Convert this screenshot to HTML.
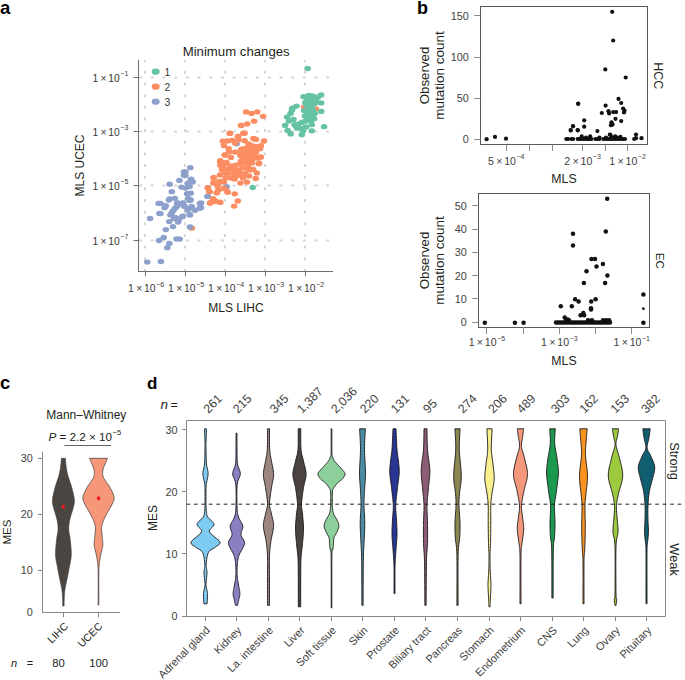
<!DOCTYPE html>
<html><head><meta charset="utf-8"><style>
html,body{margin:0;padding:0;background:#fff;}
svg{display:block;}
text{font-family:"Liberation Sans", sans-serif;}
</style></head><body>
<svg width="685" height="680" viewBox="0 0 685 680" font-family='"Liberation Sans", sans-serif'>
<rect width="685" height="680" fill="#fff"/>
<text x="0" y="13.6" font-size="18.5" text-anchor="start" fill="#000" font-weight="bold" >a</text>
<text x="236.2" y="56" font-size="13.2" text-anchor="middle" fill="#231f20" font-weight="normal" >Minimum changes</text>
<line x1="145" y1="60" x2="145" y2="271" stroke="#d5d5d5" stroke-width="1.9" stroke-dasharray="3 8.65" stroke-dashoffset="0.8"/>
<line x1="185" y1="60" x2="185" y2="271" stroke="#d5d5d5" stroke-width="1.9" stroke-dasharray="3 8.65" stroke-dashoffset="0.8"/>
<line x1="225" y1="60" x2="225" y2="271" stroke="#d5d5d5" stroke-width="1.9" stroke-dasharray="3 8.65" stroke-dashoffset="0.8"/>
<line x1="265" y1="60" x2="265" y2="271" stroke="#d5d5d5" stroke-width="1.9" stroke-dasharray="3 8.65" stroke-dashoffset="0.8"/>
<line x1="305" y1="60" x2="305" y2="271" stroke="#d5d5d5" stroke-width="1.9" stroke-dasharray="3 8.65" stroke-dashoffset="0.8"/>
<line x1="139" y1="77.5" x2="333" y2="77.5" stroke="#d5d5d5" stroke-width="1.9" stroke-dasharray="3 8.7" stroke-dashoffset="0"/>
<line x1="139" y1="131.5" x2="333" y2="131.5" stroke="#d5d5d5" stroke-width="1.9" stroke-dasharray="3 8.7" stroke-dashoffset="0"/>
<line x1="139" y1="185.5" x2="333" y2="185.5" stroke="#d5d5d5" stroke-width="1.9" stroke-dasharray="3 8.7" stroke-dashoffset="0"/>
<line x1="139" y1="240.5" x2="333" y2="240.5" stroke="#d5d5d5" stroke-width="1.9" stroke-dasharray="3 8.7" stroke-dashoffset="0"/>
<line x1="138.5" y1="60" x2="138.5" y2="272" stroke="#6d6e71" stroke-width="1" />
<line x1="138" y1="271.5" x2="333" y2="271.5" stroke="#6d6e71" stroke-width="1" />
<line x1="133.5" y1="77.5" x2="138.5" y2="77.5" stroke="#6d6e71" stroke-width="1" />
<line x1="133.5" y1="131.5" x2="138.5" y2="131.5" stroke="#6d6e71" stroke-width="1" />
<line x1="133.5" y1="185.5" x2="138.5" y2="185.5" stroke="#6d6e71" stroke-width="1" />
<line x1="133.5" y1="240.5" x2="138.5" y2="240.5" stroke="#6d6e71" stroke-width="1" />
<line x1="145.5" y1="271.5" x2="145.5" y2="276" stroke="#6d6e71" stroke-width="1" />
<line x1="185.5" y1="271.5" x2="185.5" y2="276" stroke="#6d6e71" stroke-width="1" />
<line x1="225.5" y1="271.5" x2="225.5" y2="276" stroke="#6d6e71" stroke-width="1" />
<line x1="265.5" y1="271.5" x2="265.5" y2="276" stroke="#6d6e71" stroke-width="1" />
<line x1="305.5" y1="271.5" x2="305.5" y2="276" stroke="#6d6e71" stroke-width="1" />
<text x="128.3" y="81.7" font-size="10.3" text-anchor="end" fill="#383838">1<tspan dx="2.3">×</tspan><tspan dx="1.8">10</tspan><tspan font-size="7.0" dx="0.5" dy="-5.3">&#8722;1</tspan></text>
<text x="128.3" y="135.7" font-size="10.3" text-anchor="end" fill="#383838">1<tspan dx="2.3">×</tspan><tspan dx="1.8">10</tspan><tspan font-size="7.0" dx="0.5" dy="-5.3">&#8722;3</tspan></text>
<text x="128.3" y="189.7" font-size="10.3" text-anchor="end" fill="#383838">1<tspan dx="2.3">×</tspan><tspan dx="1.8">10</tspan><tspan font-size="7.0" dx="0.5" dy="-5.3">&#8722;5</tspan></text>
<text x="128.3" y="244.7" font-size="10.3" text-anchor="end" fill="#383838">1<tspan dx="2.3">×</tspan><tspan dx="1.8">10</tspan><tspan font-size="7.0" dx="0.5" dy="-5.3">&#8722;7</tspan></text>
<text x="146.1" y="292.2" font-size="10.4" text-anchor="middle" fill="#383838">1<tspan dx="2.3">×</tspan><tspan dx="1.8">10</tspan><tspan font-size="7.0" dx="0.5" dy="-5.3">&#8722;6</tspan></text>
<text x="186.1" y="292.2" font-size="10.4" text-anchor="middle" fill="#383838">1<tspan dx="2.3">×</tspan><tspan dx="1.8">10</tspan><tspan font-size="7.0" dx="0.5" dy="-5.3">&#8722;5</tspan></text>
<text x="226.1" y="292.2" font-size="10.4" text-anchor="middle" fill="#383838">1<tspan dx="2.3">×</tspan><tspan dx="1.8">10</tspan><tspan font-size="7.0" dx="0.5" dy="-5.3">&#8722;4</tspan></text>
<text x="266.1" y="292.2" font-size="10.4" text-anchor="middle" fill="#383838">1<tspan dx="2.3">×</tspan><tspan dx="1.8">10</tspan><tspan font-size="7.0" dx="0.5" dy="-5.3">&#8722;3</tspan></text>
<text x="306.1" y="292.2" font-size="10.4" text-anchor="middle" fill="#383838">1<tspan dx="2.3">×</tspan><tspan dx="1.8">10</tspan><tspan font-size="7.0" dx="0.5" dy="-5.3">&#8722;2</tspan></text>
<text x="236" y="311.5" font-size="12" text-anchor="middle" fill="#231f20" font-weight="normal" >MLS LIHC</text>
<text x="0" y="0" font-size="12" text-anchor="middle" fill="#231f20" font-weight="normal" transform="translate(83.8,165.5) rotate(-90)" >MLS UCEC</text>
<ellipse cx="155.7" cy="71.7" rx="4" ry="3.1" fill="#66c2a5"/>
<text x="164.5" y="75.8" font-size="10.4" text-anchor="start" fill="#383838" font-weight="normal" >1</text>
<ellipse cx="155.7" cy="86.7" rx="4" ry="3.1" fill="#fc8d62"/>
<text x="164.5" y="90.8" font-size="10.4" text-anchor="start" fill="#383838" font-weight="normal" >2</text>
<ellipse cx="155.7" cy="101.7" rx="4" ry="3.1" fill="#8da0cb"/>
<text x="164.5" y="105.8" font-size="10.4" text-anchor="start" fill="#383838" font-weight="normal" >3</text>
<g>
<ellipse cx="191.8" cy="228.2" rx="3.3" ry="2.65" fill="#fc8d62"/>
<ellipse cx="190.3" cy="167.7" rx="3.3" ry="2.65" fill="#8da0cb"/>
<ellipse cx="184" cy="171.8" rx="3.3" ry="2.65" fill="#8da0cb"/>
<ellipse cx="184" cy="175.3" rx="3.3" ry="2.65" fill="#8da0cb"/>
<ellipse cx="179.4" cy="180.4" rx="3.3" ry="2.65" fill="#8da0cb"/>
<ellipse cx="190.7" cy="179.9" rx="3.3" ry="2.65" fill="#8da0cb"/>
<ellipse cx="192.7" cy="182" rx="3.3" ry="2.65" fill="#8da0cb"/>
<ellipse cx="187.6" cy="183.5" rx="3.3" ry="2.65" fill="#8da0cb"/>
<ellipse cx="169.7" cy="184.2" rx="3.3" ry="2.65" fill="#8da0cb"/>
<ellipse cx="181.5" cy="187.1" rx="3.3" ry="2.65" fill="#8da0cb"/>
<ellipse cx="185.5" cy="188.1" rx="3.3" ry="2.65" fill="#8da0cb"/>
<ellipse cx="189.6" cy="186.6" rx="3.3" ry="2.65" fill="#8da0cb"/>
<ellipse cx="171.8" cy="191.7" rx="3.3" ry="2.65" fill="#8da0cb"/>
<ellipse cx="187.1" cy="193.7" rx="3.3" ry="2.65" fill="#8da0cb"/>
<ellipse cx="190.7" cy="193.2" rx="3.3" ry="2.65" fill="#8da0cb"/>
<ellipse cx="169.7" cy="198.8" rx="3.3" ry="2.65" fill="#8da0cb"/>
<ellipse cx="174.8" cy="198.3" rx="3.3" ry="2.65" fill="#8da0cb"/>
<ellipse cx="188.1" cy="198.3" rx="3.3" ry="2.65" fill="#8da0cb"/>
<ellipse cx="190.7" cy="199.9" rx="3.3" ry="2.65" fill="#8da0cb"/>
<ellipse cx="177.9" cy="202.9" rx="3.3" ry="2.65" fill="#8da0cb"/>
<ellipse cx="183" cy="202.9" rx="3.3" ry="2.65" fill="#8da0cb"/>
<ellipse cx="199.9" cy="203.4" rx="3.3" ry="2.65" fill="#8da0cb"/>
<ellipse cx="160.5" cy="203.4" rx="3.3" ry="2.65" fill="#8da0cb"/>
<ellipse cx="165.1" cy="206.5" rx="3.3" ry="2.65" fill="#8da0cb"/>
<ellipse cx="176.9" cy="206.5" rx="3.3" ry="2.65" fill="#8da0cb"/>
<ellipse cx="184.5" cy="206.5" rx="3.3" ry="2.65" fill="#8da0cb"/>
<ellipse cx="191.7" cy="206.5" rx="3.3" ry="2.65" fill="#8da0cb"/>
<ellipse cx="199.9" cy="208" rx="3.3" ry="2.65" fill="#8da0cb"/>
<ellipse cx="194.7" cy="210.1" rx="3.3" ry="2.65" fill="#8da0cb"/>
<ellipse cx="187.6" cy="210.1" rx="3.3" ry="2.65" fill="#8da0cb"/>
<ellipse cx="173.3" cy="210.6" rx="3.3" ry="2.65" fill="#8da0cb"/>
<ellipse cx="171.2" cy="214.2" rx="3.3" ry="2.65" fill="#8da0cb"/>
<ellipse cx="160.5" cy="213.6" rx="3.3" ry="2.65" fill="#8da0cb"/>
<ellipse cx="189.6" cy="214.7" rx="3.3" ry="2.65" fill="#8da0cb"/>
<ellipse cx="182.5" cy="216.2" rx="3.3" ry="2.65" fill="#8da0cb"/>
<ellipse cx="175.8" cy="217.7" rx="3.3" ry="2.65" fill="#8da0cb"/>
<ellipse cx="207.5" cy="196.3" rx="3.3" ry="2.65" fill="#8da0cb"/>
<ellipse cx="158.6" cy="203.4" rx="3.3" ry="2.65" fill="#8da0cb"/>
<ellipse cx="165.8" cy="205.7" rx="3.3" ry="2.65" fill="#8da0cb"/>
<ellipse cx="164.6" cy="207.7" rx="3.3" ry="2.65" fill="#8da0cb"/>
<ellipse cx="200.3" cy="208" rx="3.3" ry="2.65" fill="#8da0cb"/>
<ellipse cx="195.1" cy="210.3" rx="3.3" ry="2.65" fill="#8da0cb"/>
<ellipse cx="191.5" cy="207.2" rx="3.3" ry="2.65" fill="#8da0cb"/>
<ellipse cx="188.4" cy="208.8" rx="3.3" ry="2.65" fill="#8da0cb"/>
<ellipse cx="183.3" cy="205.1" rx="3.3" ry="2.65" fill="#8da0cb"/>
<ellipse cx="177.1" cy="203.1" rx="3.3" ry="2.65" fill="#8da0cb"/>
<ellipse cx="175.1" cy="208.2" rx="3.3" ry="2.65" fill="#8da0cb"/>
<ellipse cx="172" cy="212.4" rx="3.3" ry="2.65" fill="#8da0cb"/>
<ellipse cx="170.4" cy="214.9" rx="3.3" ry="2.65" fill="#8da0cb"/>
<ellipse cx="190" cy="214.9" rx="3.3" ry="2.65" fill="#8da0cb"/>
<ellipse cx="159.4" cy="213.4" rx="3.3" ry="2.65" fill="#8da0cb"/>
<ellipse cx="150.1" cy="218.5" rx="3.3" ry="2.65" fill="#8da0cb"/>
<ellipse cx="174" cy="218.5" rx="3.3" ry="2.65" fill="#8da0cb"/>
<ellipse cx="179.2" cy="219" rx="3.3" ry="2.65" fill="#8da0cb"/>
<ellipse cx="182.8" cy="216.5" rx="3.3" ry="2.65" fill="#8da0cb"/>
<ellipse cx="178.1" cy="222.1" rx="3.3" ry="2.65" fill="#8da0cb"/>
<ellipse cx="169.2" cy="221.6" rx="3.3" ry="2.65" fill="#8da0cb"/>
<ellipse cx="173" cy="226.6" rx="3.3" ry="2.65" fill="#8da0cb"/>
<ellipse cx="165.8" cy="229.6" rx="3.3" ry="2.65" fill="#8da0cb"/>
<ellipse cx="190" cy="227" rx="3.3" ry="2.65" fill="#8da0cb"/>
<ellipse cx="163.7" cy="237.4" rx="3.3" ry="2.65" fill="#8da0cb"/>
<ellipse cx="159.1" cy="240.5" rx="3.3" ry="2.65" fill="#8da0cb"/>
<ellipse cx="176.6" cy="238.9" rx="3.3" ry="2.65" fill="#8da0cb"/>
<ellipse cx="179.7" cy="239.1" rx="3.3" ry="2.65" fill="#8da0cb"/>
<ellipse cx="169.4" cy="243.5" rx="3.3" ry="2.65" fill="#8da0cb"/>
<ellipse cx="167.3" cy="247.7" rx="3.3" ry="2.65" fill="#8da0cb"/>
<ellipse cx="147.3" cy="262.1" rx="3.3" ry="2.65" fill="#8da0cb"/>
<ellipse cx="160.9" cy="261.5" rx="3.3" ry="2.65" fill="#8da0cb"/>
<ellipse cx="168.9" cy="200" rx="3.3" ry="2.65" fill="#8da0cb"/>
<ellipse cx="189.5" cy="200.5" rx="3.3" ry="2.65" fill="#8da0cb"/>
<ellipse cx="185.4" cy="172" rx="3.3" ry="2.65" fill="#8da0cb"/>
<ellipse cx="185.4" cy="175.6" rx="3.3" ry="2.65" fill="#8da0cb"/>
<ellipse cx="191.2" cy="179.1" rx="3.3" ry="2.65" fill="#8da0cb"/>
<ellipse cx="201" cy="203" rx="3.3" ry="2.65" fill="#8da0cb"/>
<ellipse cx="201" cy="207.6" rx="3.3" ry="2.65" fill="#8da0cb"/>
<ellipse cx="207.7" cy="196.4" rx="3.3" ry="2.65" fill="#8da0cb"/>
<ellipse cx="226.6" cy="186.7" rx="3.3" ry="2.65" fill="#8da0cb"/>
<ellipse cx="236.6" cy="143.8" rx="3.3" ry="2.65" fill="#8da0cb"/>
<ellipse cx="246.1" cy="111.9" rx="3.3" ry="2.65" fill="#fc8d62"/>
<ellipse cx="251.6" cy="113.4" rx="3.3" ry="2.65" fill="#fc8d62"/>
<ellipse cx="257.2" cy="111.9" rx="3.3" ry="2.65" fill="#fc8d62"/>
<ellipse cx="263.1" cy="116.3" rx="3.3" ry="2.65" fill="#fc8d62"/>
<ellipse cx="254.1" cy="121.2" rx="3.3" ry="2.65" fill="#fc8d62"/>
<ellipse cx="247.2" cy="124" rx="3.3" ry="2.65" fill="#fc8d62"/>
<ellipse cx="241.3" cy="125.5" rx="3.3" ry="2.65" fill="#fc8d62"/>
<ellipse cx="229.8" cy="133.2" rx="3.3" ry="2.65" fill="#fc8d62"/>
<ellipse cx="244.6" cy="133.2" rx="3.3" ry="2.65" fill="#fc8d62"/>
<ellipse cx="238" cy="136.3" rx="3.3" ry="2.65" fill="#fc8d62"/>
<ellipse cx="222.9" cy="141.2" rx="3.3" ry="2.65" fill="#fc8d62"/>
<ellipse cx="227.4" cy="141" rx="3.3" ry="2.65" fill="#fc8d62"/>
<ellipse cx="232.2" cy="140.3" rx="3.3" ry="2.65" fill="#fc8d62"/>
<ellipse cx="235.1" cy="143" rx="3.3" ry="2.65" fill="#fc8d62"/>
<ellipse cx="238.4" cy="139.9" rx="3.3" ry="2.65" fill="#fc8d62"/>
<ellipse cx="244.6" cy="140.7" rx="3.3" ry="2.65" fill="#fc8d62"/>
<ellipse cx="253.4" cy="138.5" rx="3.3" ry="2.65" fill="#fc8d62"/>
<ellipse cx="256" cy="139.4" rx="3.3" ry="2.65" fill="#fc8d62"/>
<ellipse cx="264" cy="141" rx="3.3" ry="2.65" fill="#fc8d62"/>
<ellipse cx="223.8" cy="145.6" rx="3.3" ry="2.65" fill="#fc8d62"/>
<ellipse cx="228.7" cy="148.7" rx="3.3" ry="2.65" fill="#fc8d62"/>
<ellipse cx="248.5" cy="143.8" rx="3.3" ry="2.65" fill="#fc8d62"/>
<ellipse cx="252.1" cy="145.6" rx="3.3" ry="2.65" fill="#fc8d62"/>
<ellipse cx="256.5" cy="146.5" rx="3.3" ry="2.65" fill="#fc8d62"/>
<ellipse cx="260.9" cy="145.6" rx="3.3" ry="2.65" fill="#fc8d62"/>
<ellipse cx="260" cy="148.7" rx="3.3" ry="2.65" fill="#fc8d62"/>
<ellipse cx="241.5" cy="149.1" rx="3.3" ry="2.65" fill="#fc8d62"/>
<ellipse cx="245.9" cy="148.2" rx="3.3" ry="2.65" fill="#fc8d62"/>
<ellipse cx="250.3" cy="149.1" rx="3.3" ry="2.65" fill="#fc8d62"/>
<ellipse cx="253.8" cy="150.9" rx="3.3" ry="2.65" fill="#fc8d62"/>
<ellipse cx="225.1" cy="154.9" rx="3.3" ry="2.65" fill="#fc8d62"/>
<ellipse cx="230.9" cy="157.5" rx="3.3" ry="2.65" fill="#fc8d62"/>
<ellipse cx="241.5" cy="154.4" rx="3.3" ry="2.65" fill="#fc8d62"/>
<ellipse cx="245.9" cy="154.4" rx="3.3" ry="2.65" fill="#fc8d62"/>
<ellipse cx="250.3" cy="153.5" rx="3.3" ry="2.65" fill="#fc8d62"/>
<ellipse cx="254.7" cy="154.4" rx="3.3" ry="2.65" fill="#fc8d62"/>
<ellipse cx="260.9" cy="157.1" rx="3.3" ry="2.65" fill="#fc8d62"/>
<ellipse cx="220.3" cy="160.6" rx="3.3" ry="2.65" fill="#fc8d62"/>
<ellipse cx="226.5" cy="162.4" rx="3.3" ry="2.65" fill="#fc8d62"/>
<ellipse cx="243.2" cy="158.8" rx="3.3" ry="2.65" fill="#fc8d62"/>
<ellipse cx="247.7" cy="159.7" rx="3.3" ry="2.65" fill="#fc8d62"/>
<ellipse cx="252.1" cy="159.7" rx="3.3" ry="2.65" fill="#fc8d62"/>
<ellipse cx="259.1" cy="163.2" rx="3.3" ry="2.65" fill="#fc8d62"/>
<ellipse cx="240.6" cy="163.2" rx="3.3" ry="2.65" fill="#fc8d62"/>
<ellipse cx="245.9" cy="163.2" rx="3.3" ry="2.65" fill="#fc8d62"/>
<ellipse cx="241" cy="125.3" rx="3.3" ry="2.65" fill="#fc8d62"/>
<ellipse cx="230" cy="133.4" rx="3.3" ry="2.65" fill="#fc8d62"/>
<ellipse cx="243.3" cy="133.2" rx="3.3" ry="2.65" fill="#fc8d62"/>
<ellipse cx="238" cy="136.3" rx="3.3" ry="2.65" fill="#fc8d62"/>
<ellipse cx="242.4" cy="149.1" rx="3.3" ry="2.65" fill="#fc8d62"/>
<ellipse cx="224.7" cy="154.9" rx="3.3" ry="2.65" fill="#fc8d62"/>
<ellipse cx="238.8" cy="151.8" rx="3.3" ry="2.65" fill="#fc8d62"/>
<ellipse cx="234.9" cy="152.1" rx="3.3" ry="2.65" fill="#fc8d62"/>
<ellipse cx="240.5" cy="155.5" rx="3.3" ry="2.65" fill="#fc8d62"/>
<ellipse cx="220.3" cy="161.5" rx="3.3" ry="2.65" fill="#fc8d62"/>
<ellipse cx="225.6" cy="163.2" rx="3.3" ry="2.65" fill="#fc8d62"/>
<ellipse cx="222.1" cy="167.7" rx="3.3" ry="2.65" fill="#fc8d62"/>
<ellipse cx="225.6" cy="173" rx="3.3" ry="2.65" fill="#fc8d62"/>
<ellipse cx="220.4" cy="162.2" rx="3.3" ry="2.65" fill="#fc8d62"/>
<ellipse cx="220.4" cy="165.2" rx="3.3" ry="2.65" fill="#fc8d62"/>
<ellipse cx="225.5" cy="163.2" rx="3.3" ry="2.65" fill="#fc8d62"/>
<ellipse cx="222" cy="169.8" rx="3.3" ry="2.65" fill="#fc8d62"/>
<ellipse cx="225.5" cy="168.8" rx="3.3" ry="2.65" fill="#fc8d62"/>
<ellipse cx="230.7" cy="167.3" rx="3.3" ry="2.65" fill="#fc8d62"/>
<ellipse cx="235.8" cy="165.2" rx="3.3" ry="2.65" fill="#fc8d62"/>
<ellipse cx="240.9" cy="161.1" rx="3.3" ry="2.65" fill="#fc8d62"/>
<ellipse cx="246" cy="159.1" rx="3.3" ry="2.65" fill="#fc8d62"/>
<ellipse cx="251.1" cy="158.1" rx="3.3" ry="2.65" fill="#fc8d62"/>
<ellipse cx="260.3" cy="157" rx="3.3" ry="2.65" fill="#fc8d62"/>
<ellipse cx="258.8" cy="163.7" rx="3.3" ry="2.65" fill="#fc8d62"/>
<ellipse cx="253.1" cy="169.3" rx="3.3" ry="2.65" fill="#fc8d62"/>
<ellipse cx="256.7" cy="172.9" rx="3.3" ry="2.65" fill="#fc8d62"/>
<ellipse cx="255.7" cy="178.5" rx="3.3" ry="2.65" fill="#fc8d62"/>
<ellipse cx="247" cy="182.1" rx="3.3" ry="2.65" fill="#fc8d62"/>
<ellipse cx="240.4" cy="183.1" rx="3.3" ry="2.65" fill="#fc8d62"/>
<ellipse cx="234.7" cy="179" rx="3.3" ry="2.65" fill="#fc8d62"/>
<ellipse cx="240.9" cy="175.4" rx="3.3" ry="2.65" fill="#fc8d62"/>
<ellipse cx="245" cy="173.4" rx="3.3" ry="2.65" fill="#fc8d62"/>
<ellipse cx="233.7" cy="173.4" rx="3.3" ry="2.65" fill="#fc8d62"/>
<ellipse cx="225.5" cy="178" rx="3.3" ry="2.65" fill="#fc8d62"/>
<ellipse cx="227.6" cy="173.4" rx="3.3" ry="2.65" fill="#fc8d62"/>
<ellipse cx="213.8" cy="177.5" rx="3.3" ry="2.65" fill="#fc8d62"/>
<ellipse cx="213.3" cy="182.6" rx="3.3" ry="2.65" fill="#fc8d62"/>
<ellipse cx="219.9" cy="181.6" rx="3.3" ry="2.65" fill="#fc8d62"/>
<ellipse cx="217.9" cy="185.7" rx="3.3" ry="2.65" fill="#fc8d62"/>
<ellipse cx="207.7" cy="187.7" rx="3.3" ry="2.65" fill="#fc8d62"/>
<ellipse cx="209.2" cy="191.3" rx="3.3" ry="2.65" fill="#fc8d62"/>
<ellipse cx="216.9" cy="192.8" rx="3.3" ry="2.65" fill="#fc8d62"/>
<ellipse cx="218.4" cy="190.3" rx="3.3" ry="2.65" fill="#fc8d62"/>
<ellipse cx="224.5" cy="188.7" rx="3.3" ry="2.65" fill="#fc8d62"/>
<ellipse cx="227.6" cy="192.3" rx="3.3" ry="2.65" fill="#fc8d62"/>
<ellipse cx="234.7" cy="193.8" rx="3.3" ry="2.65" fill="#fc8d62"/>
<ellipse cx="213.3" cy="198.9" rx="3.3" ry="2.65" fill="#fc8d62"/>
<ellipse cx="210.2" cy="203" rx="3.3" ry="2.65" fill="#fc8d62"/>
<ellipse cx="215.3" cy="201.5" rx="3.3" ry="2.65" fill="#fc8d62"/>
<ellipse cx="219.9" cy="202.2" rx="3.3" ry="2.65" fill="#fc8d62"/>
<ellipse cx="237.8" cy="201" rx="3.3" ry="2.65" fill="#fc8d62"/>
<ellipse cx="234.2" cy="206.1" rx="3.3" ry="2.65" fill="#fc8d62"/>
<ellipse cx="213.6" cy="177.9" rx="3.3" ry="2.65" fill="#fc8d62"/>
<ellipse cx="219.3" cy="181.5" rx="3.3" ry="2.65" fill="#fc8d62"/>
<ellipse cx="214.2" cy="183" rx="3.3" ry="2.65" fill="#fc8d62"/>
<ellipse cx="208" cy="187.6" rx="3.3" ry="2.65" fill="#fc8d62"/>
<ellipse cx="217.7" cy="186.6" rx="3.3" ry="2.65" fill="#fc8d62"/>
<ellipse cx="224.4" cy="188.6" rx="3.3" ry="2.65" fill="#fc8d62"/>
<ellipse cx="209.6" cy="191.7" rx="3.3" ry="2.65" fill="#fc8d62"/>
<ellipse cx="216.7" cy="192.7" rx="3.3" ry="2.65" fill="#fc8d62"/>
<ellipse cx="227.4" cy="191.7" rx="3.3" ry="2.65" fill="#fc8d62"/>
<ellipse cx="213.1" cy="198.8" rx="3.3" ry="2.65" fill="#fc8d62"/>
<ellipse cx="210.1" cy="202.9" rx="3.3" ry="2.65" fill="#fc8d62"/>
<ellipse cx="215.7" cy="201.4" rx="3.3" ry="2.65" fill="#fc8d62"/>
<ellipse cx="220.3" cy="202.4" rx="3.3" ry="2.65" fill="#fc8d62"/>
<ellipse cx="231" cy="166" rx="3.3" ry="2.65" fill="#fc8d62"/>
<ellipse cx="236" cy="170" rx="3.3" ry="2.65" fill="#fc8d62"/>
<ellipse cx="242" cy="168" rx="3.3" ry="2.65" fill="#fc8d62"/>
<ellipse cx="248" cy="166" rx="3.3" ry="2.65" fill="#fc8d62"/>
<ellipse cx="252" cy="163" rx="3.3" ry="2.65" fill="#fc8d62"/>
<ellipse cx="244" cy="162" rx="3.3" ry="2.65" fill="#fc8d62"/>
<ellipse cx="236" cy="176" rx="3.3" ry="2.65" fill="#fc8d62"/>
<ellipse cx="243" cy="178" rx="3.3" ry="2.65" fill="#fc8d62"/>
<ellipse cx="249" cy="176" rx="3.3" ry="2.65" fill="#fc8d62"/>
<ellipse cx="250" cy="170" rx="3.3" ry="2.65" fill="#fc8d62"/>
<ellipse cx="246" cy="168" rx="3.3" ry="2.65" fill="#fc8d62"/>
<ellipse cx="239" cy="172" rx="3.3" ry="2.65" fill="#fc8d62"/>
<ellipse cx="233" cy="169" rx="3.3" ry="2.65" fill="#fc8d62"/>
<ellipse cx="228" cy="170" rx="3.3" ry="2.65" fill="#fc8d62"/>
<ellipse cx="256" cy="152" rx="3.3" ry="2.65" fill="#fc8d62"/>
<ellipse cx="258" cy="158" rx="3.3" ry="2.65" fill="#fc8d62"/>
<ellipse cx="229" cy="152" rx="3.3" ry="2.65" fill="#fc8d62"/>
<ellipse cx="247" cy="151" rx="3.3" ry="2.65" fill="#fc8d62"/>
<ellipse cx="254" cy="158" rx="3.3" ry="2.65" fill="#fc8d62"/>
<ellipse cx="249" cy="155" rx="3.3" ry="2.65" fill="#fc8d62"/>
<ellipse cx="231" cy="178" rx="3.3" ry="2.65" fill="#fc8d62"/>
<ellipse cx="220" cy="175" rx="3.3" ry="2.65" fill="#fc8d62"/>
<ellipse cx="224" cy="182" rx="3.3" ry="2.65" fill="#fc8d62"/>
<ellipse cx="315.9" cy="108.8" rx="3.3" ry="2.65" fill="#fc8d62"/>
<ellipse cx="304.1" cy="107.1" rx="3.3" ry="2.65" fill="#fc8d62"/>
<ellipse cx="307.6" cy="68.5" rx="3.3" ry="2.65" fill="#66c2a5"/>
<ellipse cx="321.2" cy="94.9" rx="3.3" ry="2.65" fill="#66c2a5"/>
<ellipse cx="303.5" cy="96.7" rx="3.3" ry="2.65" fill="#66c2a5"/>
<ellipse cx="308.8" cy="95.3" rx="3.3" ry="2.65" fill="#66c2a5"/>
<ellipse cx="312.4" cy="95.9" rx="3.3" ry="2.65" fill="#66c2a5"/>
<ellipse cx="315.3" cy="97.6" rx="3.3" ry="2.65" fill="#66c2a5"/>
<ellipse cx="305.3" cy="102.4" rx="3.3" ry="2.65" fill="#66c2a5"/>
<ellipse cx="310" cy="101.2" rx="3.3" ry="2.65" fill="#66c2a5"/>
<ellipse cx="314.7" cy="103.5" rx="3.3" ry="2.65" fill="#66c2a5"/>
<ellipse cx="321.2" cy="102.9" rx="3.3" ry="2.65" fill="#66c2a5"/>
<ellipse cx="296.5" cy="106.1" rx="3.3" ry="2.65" fill="#66c2a5"/>
<ellipse cx="292.4" cy="108.2" rx="3.3" ry="2.65" fill="#66c2a5"/>
<ellipse cx="308.8" cy="107.1" rx="3.3" ry="2.65" fill="#66c2a5"/>
<ellipse cx="312.9" cy="109.4" rx="3.3" ry="2.65" fill="#66c2a5"/>
<ellipse cx="304.1" cy="110.6" rx="3.3" ry="2.65" fill="#66c2a5"/>
<ellipse cx="321.2" cy="111.4" rx="3.3" ry="2.65" fill="#66c2a5"/>
<ellipse cx="290.6" cy="113.5" rx="3.3" ry="2.65" fill="#66c2a5"/>
<ellipse cx="310.6" cy="114.1" rx="3.3" ry="2.65" fill="#66c2a5"/>
<ellipse cx="314.7" cy="113.5" rx="3.3" ry="2.65" fill="#66c2a5"/>
<ellipse cx="287.1" cy="117.1" rx="3.3" ry="2.65" fill="#66c2a5"/>
<ellipse cx="293.5" cy="119.4" rx="3.3" ry="2.65" fill="#66c2a5"/>
<ellipse cx="310" cy="115.3" rx="3.3" ry="2.65" fill="#66c2a5"/>
<ellipse cx="314.1" cy="118.8" rx="3.3" ry="2.65" fill="#66c2a5"/>
<ellipse cx="305.3" cy="121.2" rx="3.3" ry="2.65" fill="#66c2a5"/>
<ellipse cx="301.8" cy="122.4" rx="3.3" ry="2.65" fill="#66c2a5"/>
<ellipse cx="298.2" cy="124.1" rx="3.3" ry="2.65" fill="#66c2a5"/>
<ellipse cx="294.7" cy="124.7" rx="3.3" ry="2.65" fill="#66c2a5"/>
<ellipse cx="285.1" cy="125.4" rx="3.3" ry="2.65" fill="#66c2a5"/>
<ellipse cx="311.8" cy="124.7" rx="3.3" ry="2.65" fill="#66c2a5"/>
<ellipse cx="324.1" cy="126.7" rx="3.3" ry="2.65" fill="#66c2a5"/>
<ellipse cx="297.1" cy="128.2" rx="3.3" ry="2.65" fill="#66c2a5"/>
<ellipse cx="300.6" cy="128.2" rx="3.3" ry="2.65" fill="#66c2a5"/>
<ellipse cx="287.6" cy="130.4" rx="3.3" ry="2.65" fill="#66c2a5"/>
<ellipse cx="311.8" cy="130.8" rx="3.3" ry="2.65" fill="#66c2a5"/>
<ellipse cx="290.6" cy="133.9" rx="3.3" ry="2.65" fill="#66c2a5"/>
<ellipse cx="301.8" cy="134.7" rx="3.3" ry="2.65" fill="#66c2a5"/>
<ellipse cx="307" cy="99" rx="3.3" ry="2.65" fill="#66c2a5"/>
<ellipse cx="311" cy="105" rx="3.3" ry="2.65" fill="#66c2a5"/>
<ellipse cx="307" cy="112" rx="3.3" ry="2.65" fill="#66c2a5"/>
<ellipse cx="313" cy="116" rx="3.3" ry="2.65" fill="#66c2a5"/>
<ellipse cx="308" cy="119" rx="3.3" ry="2.65" fill="#66c2a5"/>
<ellipse cx="311" cy="121" rx="3.3" ry="2.65" fill="#66c2a5"/>
<ellipse cx="296" cy="126" rx="3.3" ry="2.65" fill="#66c2a5"/>
<ellipse cx="289" cy="121" rx="3.3" ry="2.65" fill="#66c2a5"/>
<ellipse cx="306" cy="127" rx="3.3" ry="2.65" fill="#66c2a5"/>
<ellipse cx="303" cy="131" rx="3.3" ry="2.65" fill="#66c2a5"/>
<ellipse cx="316" cy="101" rx="3.3" ry="2.65" fill="#66c2a5"/>
<ellipse cx="318" cy="97" rx="3.3" ry="2.65" fill="#66c2a5"/>
<ellipse cx="313" cy="98" rx="3.3" ry="2.65" fill="#66c2a5"/>
<ellipse cx="306.5" cy="105" rx="3.3" ry="2.65" fill="#66c2a5"/>
<ellipse cx="312" cy="111" rx="3.3" ry="2.65" fill="#66c2a5"/>
<ellipse cx="305" cy="116" rx="3.3" ry="2.65" fill="#66c2a5"/>
<ellipse cx="309" cy="110" rx="3.3" ry="2.65" fill="#66c2a5"/>
<ellipse cx="292" cy="110" rx="3.3" ry="2.65" fill="#66c2a5"/>
<ellipse cx="252.8" cy="187.5" rx="3.3" ry="2.65" fill="#66c2a5"/>
</g>
<text x="417" y="13.5" font-size="18" text-anchor="start" fill="#000" font-weight="bold" >b</text>
<rect x="480.5" y="6.5" width="167" height="138" fill="none" stroke="#58595b" stroke-width="1"/>
<line x1="474.2" y1="15.5" x2="480.5" y2="15.5" stroke="#888" stroke-width="1" />
<text x="468.8" y="19.5" font-size="10.8" text-anchor="end" fill="#404040" font-weight="normal" >150</text>
<line x1="474.2" y1="57.5" x2="480.5" y2="57.5" stroke="#888" stroke-width="1" />
<text x="468.8" y="60.7" font-size="10.8" text-anchor="end" fill="#404040" font-weight="normal" >100</text>
<line x1="474.2" y1="98.5" x2="480.5" y2="98.5" stroke="#888" stroke-width="1" />
<text x="468.8" y="101.9" font-size="10.8" text-anchor="end" fill="#404040" font-weight="normal" >50</text>
<line x1="474.2" y1="139.5" x2="480.5" y2="139.5" stroke="#888" stroke-width="1" />
<text x="468.8" y="143.1" font-size="10.8" text-anchor="end" fill="#404040" font-weight="normal" >0</text>
<line x1="506.5" y1="144.5" x2="506.5" y2="150.9" stroke="#888" stroke-width="1" />
<line x1="529.5" y1="144.5" x2="529.5" y2="150.9" stroke="#888" stroke-width="1" />
<line x1="552.5" y1="144.5" x2="552.5" y2="150.9" stroke="#888" stroke-width="1" />
<line x1="582.5" y1="144.5" x2="582.5" y2="150.9" stroke="#888" stroke-width="1" />
<line x1="605.5" y1="144.5" x2="605.5" y2="150.9" stroke="#888" stroke-width="1" />
<line x1="627.5" y1="144.5" x2="627.5" y2="150.9" stroke="#888" stroke-width="1" />
<text x="506.2" y="164.5" font-size="10.6" text-anchor="middle" fill="#404040">5<tspan dx="2.3">×</tspan><tspan dx="1.8">10</tspan><tspan font-size="7.0" dx="0.5" dy="-5.3">&#8722;4</tspan></text>
<text x="582.6" y="164.5" font-size="10.6" text-anchor="middle" fill="#404040">2<tspan dx="2.3">×</tspan><tspan dx="1.8">10</tspan><tspan font-size="7.0" dx="0.5" dy="-5.3">&#8722;3</tspan></text>
<text x="627.6" y="164.5" font-size="10.6" text-anchor="middle" fill="#404040">1<tspan dx="2.3">×</tspan><tspan dx="1.8">10</tspan><tspan font-size="7.0" dx="0.5" dy="-5.3">&#8722;2</tspan></text>
<text x="564" y="182.7" font-size="12.3" text-anchor="middle" fill="#231f20" font-weight="normal" >MLS</text>
<text x="0" y="0" font-size="13.3" text-anchor="middle" fill="#231f20" font-weight="normal" transform="translate(429,75.5) rotate(-90)" >Observed</text>
<text x="0" y="0" font-size="13.5" text-anchor="middle" fill="#231f20" font-weight="normal" transform="translate(443.8,75.5) rotate(-90)" >mutation count</text>
<text x="0" y="0" font-size="12.5" text-anchor="middle" fill="#231f20" font-weight="normal" transform="translate(653.5,75.8) rotate(90)" >HCC</text>
<circle cx="612.2" cy="11.8" r="2.1" fill="#111"/>
<circle cx="613.2" cy="40.5" r="2.1" fill="#111"/>
<circle cx="605.3" cy="69.4" r="2.1" fill="#111"/>
<circle cx="625.7" cy="77.5" r="2.1" fill="#111"/>
<circle cx="618.5" cy="98.9" r="2.1" fill="#111"/>
<circle cx="621.2" cy="103" r="2.1" fill="#111"/>
<circle cx="578.2" cy="103.7" r="2.1" fill="#111"/>
<circle cx="605.6" cy="105.6" r="2.1" fill="#111"/>
<circle cx="623.1" cy="108.6" r="2.1" fill="#111"/>
<circle cx="601.8" cy="113" r="2.1" fill="#111"/>
<circle cx="608.5" cy="111.2" r="2.1" fill="#111"/>
<circle cx="609.1" cy="113.5" r="2.1" fill="#111"/>
<circle cx="613.2" cy="112.1" r="2.1" fill="#111"/>
<circle cx="616.1" cy="112.1" r="2.1" fill="#111"/>
<circle cx="624" cy="112.4" r="2.1" fill="#111"/>
<circle cx="584.2" cy="120.3" r="2.1" fill="#111"/>
<circle cx="615.5" cy="118.8" r="2.1" fill="#111"/>
<circle cx="621.2" cy="121.1" r="2.1" fill="#111"/>
<circle cx="611.5" cy="122.3" r="2.1" fill="#111"/>
<circle cx="610.9" cy="125.2" r="2.1" fill="#111"/>
<circle cx="612.6" cy="124.6" r="2.1" fill="#111"/>
<circle cx="572.9" cy="126" r="2.1" fill="#111"/>
<circle cx="584.2" cy="126.7" r="2.1" fill="#111"/>
<circle cx="570.6" cy="130.1" r="2.1" fill="#111"/>
<circle cx="577.6" cy="130.1" r="2.1" fill="#111"/>
<circle cx="597.4" cy="131.1" r="2.1" fill="#111"/>
<circle cx="610.3" cy="134.8" r="2.1" fill="#111"/>
<circle cx="486.6" cy="139.2" r="2.1" fill="#111"/>
<circle cx="495" cy="136.9" r="2.1" fill="#111"/>
<circle cx="506" cy="138.7" r="2.1" fill="#111"/>
<circle cx="570.8" cy="130.4" r="2.1" fill="#111"/>
<circle cx="573.1" cy="126.3" r="2.1" fill="#111"/>
<circle cx="577.8" cy="130.4" r="2.1" fill="#111"/>
<circle cx="578.2" cy="103.8" r="2.1" fill="#111"/>
<circle cx="624.5" cy="110.5" r="2.1" fill="#111"/>
<circle cx="566.3" cy="139" r="2.1" fill="#111"/>
<circle cx="568.1" cy="139" r="2.1" fill="#111"/>
<circle cx="571.6" cy="139" r="2.1" fill="#111"/>
<circle cx="573.1" cy="139" r="2.1" fill="#111"/>
<circle cx="577.7" cy="139" r="2.1" fill="#111"/>
<circle cx="579.7" cy="139" r="2.1" fill="#111"/>
<circle cx="581.7" cy="139" r="2.1" fill="#111"/>
<circle cx="583.7" cy="139" r="2.1" fill="#111"/>
<circle cx="585.6" cy="139" r="2.1" fill="#111"/>
<circle cx="587.6" cy="139" r="2.1" fill="#111"/>
<circle cx="589" cy="139" r="2.1" fill="#111"/>
<circle cx="590" cy="139" r="2.1" fill="#111"/>
<circle cx="591.5" cy="139" r="2.1" fill="#111"/>
<circle cx="595.5" cy="139" r="2.1" fill="#111"/>
<circle cx="597.5" cy="139" r="2.1" fill="#111"/>
<circle cx="599.4" cy="139" r="2.1" fill="#111"/>
<circle cx="603.4" cy="139" r="2.1" fill="#111"/>
<circle cx="605.3" cy="139" r="2.1" fill="#111"/>
<circle cx="607.3" cy="139" r="2.1" fill="#111"/>
<circle cx="609.3" cy="139" r="2.1" fill="#111"/>
<circle cx="611.2" cy="139" r="2.1" fill="#111"/>
<circle cx="613.2" cy="139" r="2.1" fill="#111"/>
<circle cx="615.2" cy="139" r="2.1" fill="#111"/>
<circle cx="617.2" cy="139" r="2.1" fill="#111"/>
<circle cx="619.1" cy="139" r="2.1" fill="#111"/>
<circle cx="621.1" cy="139" r="2.1" fill="#111"/>
<circle cx="623.1" cy="139" r="2.1" fill="#111"/>
<circle cx="625" cy="139" r="2.1" fill="#111"/>
<circle cx="581.7" cy="136.4" r="2.1" fill="#111"/>
<circle cx="590.2" cy="136.4" r="2.1" fill="#111"/>
<circle cx="609.9" cy="134.6" r="2.1" fill="#111"/>
<circle cx="615.2" cy="136.4" r="2.1" fill="#111"/>
<circle cx="620.4" cy="136.9" r="2.1" fill="#111"/>
<circle cx="599.4" cy="137.6" r="2.1" fill="#111"/>
<circle cx="636" cy="134.6" r="2.1" fill="#111"/>
<circle cx="634.2" cy="139" r="2.1" fill="#111"/>
<circle cx="636" cy="138.2" r="2.1" fill="#111"/>
<circle cx="641.5" cy="138.2" r="2.1" fill="#111"/>
<circle cx="586" cy="137.5" r="2.1" fill="#111"/>
<circle cx="606" cy="137.5" r="2.1" fill="#111"/>
<circle cx="612" cy="137.2" r="2.1" fill="#111"/>
<circle cx="617" cy="137.5" r="2.1" fill="#111"/>
<rect x="478.5" y="193.5" width="171" height="134" fill="none" stroke="#58595b" stroke-width="1"/>
<line x1="472.2" y1="205.5" x2="478.5" y2="205.5" stroke="#888" stroke-width="1" />
<text x="466.8" y="209.8" font-size="10.8" text-anchor="end" fill="#404040" font-weight="normal" >50</text>
<line x1="472.2" y1="229.5" x2="478.5" y2="229.5" stroke="#888" stroke-width="1" />
<text x="466.8" y="233.1" font-size="10.8" text-anchor="end" fill="#404040" font-weight="normal" >40</text>
<line x1="472.2" y1="252.5" x2="478.5" y2="252.5" stroke="#888" stroke-width="1" />
<text x="466.8" y="256.4" font-size="10.8" text-anchor="end" fill="#404040" font-weight="normal" >30</text>
<line x1="472.2" y1="275.5" x2="478.5" y2="275.5" stroke="#888" stroke-width="1" />
<text x="466.8" y="279.7" font-size="10.8" text-anchor="end" fill="#404040" font-weight="normal" >20</text>
<line x1="472.2" y1="298.5" x2="478.5" y2="298.5" stroke="#888" stroke-width="1" />
<text x="466.8" y="303" font-size="10.8" text-anchor="end" fill="#404040" font-weight="normal" >10</text>
<line x1="472.2" y1="322.5" x2="478.5" y2="322.5" stroke="#888" stroke-width="1" />
<text x="466.8" y="326.3" font-size="10.8" text-anchor="end" fill="#404040" font-weight="normal" >0</text>
<line x1="486.5" y1="327.5" x2="486.5" y2="333.9" stroke="#888" stroke-width="1" />
<line x1="523.5" y1="327.5" x2="523.5" y2="333.9" stroke="#888" stroke-width="1" />
<line x1="559.5" y1="327.5" x2="559.5" y2="333.9" stroke="#888" stroke-width="1" />
<line x1="595.5" y1="327.5" x2="595.5" y2="333.9" stroke="#888" stroke-width="1" />
<line x1="631.5" y1="327.5" x2="631.5" y2="333.9" stroke="#888" stroke-width="1" />
<text x="486.9" y="345.9" font-size="10.6" text-anchor="middle" fill="#404040">1<tspan dx="2.3">×</tspan><tspan dx="1.8">10</tspan><tspan font-size="7.0" dx="0.5" dy="-5.3">&#8722;5</tspan></text>
<text x="559.3" y="345.9" font-size="10.6" text-anchor="middle" fill="#404040">1<tspan dx="2.3">×</tspan><tspan dx="1.8">10</tspan><tspan font-size="7.0" dx="0.5" dy="-5.3">&#8722;3</tspan></text>
<text x="631.7" y="345.9" font-size="10.6" text-anchor="middle" fill="#404040">1<tspan dx="2.3">×</tspan><tspan dx="1.8">10</tspan><tspan font-size="7.0" dx="0.5" dy="-5.3">&#8722;1</tspan></text>
<text x="564" y="365.2" font-size="12.3" text-anchor="middle" fill="#231f20" font-weight="normal" >MLS</text>
<text x="0" y="0" font-size="13.3" text-anchor="middle" fill="#231f20" font-weight="normal" transform="translate(429,260.5) rotate(-90)" >Observed</text>
<text x="0" y="0" font-size="13.5" text-anchor="middle" fill="#231f20" font-weight="normal" transform="translate(443.8,260.5) rotate(-90)" >mutation count</text>
<text x="0" y="0" font-size="11.6" text-anchor="middle" fill="#231f20" font-weight="normal" transform="translate(655.5,260.8) rotate(90)" >EC</text>
<circle cx="607.2" cy="198.8" r="2.25" fill="#111"/>
<circle cx="605.8" cy="231.5" r="2.25" fill="#111"/>
<circle cx="573" cy="233.8" r="2.25" fill="#111"/>
<circle cx="573" cy="245.5" r="2.25" fill="#111"/>
<circle cx="591.5" cy="258.9" r="2.25" fill="#111"/>
<circle cx="595" cy="258.9" r="2.25" fill="#111"/>
<circle cx="602.9" cy="264.1" r="2.25" fill="#111"/>
<circle cx="596.5" cy="266.5" r="2.25" fill="#111"/>
<circle cx="586.5" cy="271.2" r="2.25" fill="#111"/>
<circle cx="607.4" cy="275.6" r="2.25" fill="#111"/>
<circle cx="583.9" cy="283" r="2.25" fill="#111"/>
<circle cx="605.1" cy="283" r="2.25" fill="#111"/>
<circle cx="575.1" cy="299.2" r="2.25" fill="#111"/>
<circle cx="578.6" cy="301.5" r="2.25" fill="#111"/>
<circle cx="595.6" cy="299.2" r="2.25" fill="#111"/>
<circle cx="591.2" cy="301.5" r="2.25" fill="#111"/>
<circle cx="560.8" cy="306.2" r="2.25" fill="#111"/>
<circle cx="571.8" cy="306.2" r="2.25" fill="#111"/>
<circle cx="591" cy="308.2" r="2.25" fill="#111"/>
<circle cx="583.3" cy="312.9" r="2.25" fill="#111"/>
<circle cx="580.6" cy="315.3" r="2.25" fill="#111"/>
<circle cx="584.1" cy="315.3" r="2.25" fill="#111"/>
<circle cx="564.7" cy="317.6" r="2.25" fill="#111"/>
<circle cx="567.6" cy="319.4" r="2.25" fill="#111"/>
<circle cx="484.8" cy="322.7" r="2.25" fill="#111"/>
<circle cx="514.9" cy="322.7" r="2.25" fill="#111"/>
<circle cx="523.6" cy="322.7" r="2.25" fill="#111"/>
<circle cx="643.4" cy="294.4" r="2.25" fill="#111"/>
<circle cx="643.4" cy="308.7" r="1.4" fill="#111"/>
<circle cx="643.4" cy="322.7" r="2.25" fill="#111"/>
<circle cx="591" cy="309.5" r="2.25" fill="#111"/>
<circle cx="556" cy="322.4" r="2.25" fill="#111"/>
<circle cx="558" cy="322.4" r="2.25" fill="#111"/>
<circle cx="560" cy="322.4" r="2.25" fill="#111"/>
<circle cx="562" cy="322.4" r="2.25" fill="#111"/>
<circle cx="564" cy="322.4" r="2.25" fill="#111"/>
<circle cx="566" cy="322.4" r="2.25" fill="#111"/>
<circle cx="568" cy="322.4" r="2.25" fill="#111"/>
<circle cx="570" cy="322.4" r="2.25" fill="#111"/>
<circle cx="572" cy="322.4" r="2.25" fill="#111"/>
<circle cx="574" cy="322.4" r="2.25" fill="#111"/>
<circle cx="576" cy="322.4" r="2.25" fill="#111"/>
<circle cx="578" cy="322.4" r="2.25" fill="#111"/>
<circle cx="580" cy="322.4" r="2.25" fill="#111"/>
<circle cx="582" cy="322.4" r="2.25" fill="#111"/>
<circle cx="584" cy="322.4" r="2.25" fill="#111"/>
<circle cx="586" cy="322.4" r="2.25" fill="#111"/>
<circle cx="588" cy="322.4" r="2.25" fill="#111"/>
<circle cx="590" cy="322.4" r="2.25" fill="#111"/>
<circle cx="592" cy="322.4" r="2.25" fill="#111"/>
<circle cx="594" cy="322.4" r="2.25" fill="#111"/>
<circle cx="596" cy="322.4" r="2.25" fill="#111"/>
<circle cx="598" cy="322.4" r="2.25" fill="#111"/>
<circle cx="600" cy="322.4" r="2.25" fill="#111"/>
<circle cx="602" cy="322.4" r="2.25" fill="#111"/>
<circle cx="604" cy="322.4" r="2.25" fill="#111"/>
<circle cx="606" cy="322.4" r="2.25" fill="#111"/>
<circle cx="608" cy="322.4" r="2.25" fill="#111"/>
<circle cx="610" cy="322.4" r="2.25" fill="#111"/>
<circle cx="566" cy="320.2" r="2.25" fill="#111"/>
<circle cx="569" cy="320.2" r="2.25" fill="#111"/>
<circle cx="588" cy="320.2" r="2.25" fill="#111"/>
<circle cx="592" cy="320.2" r="2.25" fill="#111"/>
<circle cx="603" cy="320.2" r="2.25" fill="#111"/>
<circle cx="606" cy="320.2" r="2.25" fill="#111"/>
<circle cx="609" cy="320.2" r="2.25" fill="#111"/>
<text x="0" y="389.2" font-size="18.5" text-anchor="start" fill="#000" font-weight="bold" >c</text>
<text x="86.3" y="419.3" font-size="12" text-anchor="middle" fill="#231f20" font-weight="normal" >Mann–Whitney</text>
<text x="84.8" y="440.8" font-size="11.7" text-anchor="middle" fill="#231f20"><tspan font-style="italic">P</tspan> = 2.2 × 10<tspan font-size="7.6" dx="0.4" dy="-5.6">&#8722;5</tspan></text>
<line x1="64.3" y1="445.5" x2="111" y2="445.5" stroke="#666" stroke-width="1" />
<line x1="42.5" y1="451.5" x2="42.5" y2="612.5" stroke="#888" stroke-width="1" />
<line x1="42" y1="612.5" x2="120" y2="612.5" stroke="#888" stroke-width="1" />
<line x1="37.8" y1="458.5" x2="42.5" y2="458.5" stroke="#888" stroke-width="1" />
<text x="32.8" y="462.2" font-size="10.8" text-anchor="end" fill="#404040" font-weight="normal" >30</text>
<line x1="37.8" y1="514.5" x2="42.5" y2="514.5" stroke="#888" stroke-width="1" />
<text x="32.8" y="518.2" font-size="10.8" text-anchor="end" fill="#404040" font-weight="normal" >20</text>
<line x1="37.8" y1="570.5" x2="42.5" y2="570.5" stroke="#888" stroke-width="1" />
<text x="32.8" y="574" font-size="10.8" text-anchor="end" fill="#404040" font-weight="normal" >10</text>
<text x="32.8" y="616.2" font-size="10.8" text-anchor="end" fill="#404040" font-weight="normal" >0</text>
<text x="0" y="0" font-size="11.6" text-anchor="middle" fill="#231f20" font-weight="normal" transform="translate(10.8,532) rotate(-90)" >MES</text>
<line x1="63.5" y1="612.5" x2="63.5" y2="617.3" stroke="#888" stroke-width="1" />
<line x1="98.5" y1="612.5" x2="98.5" y2="617.3" stroke="#888" stroke-width="1" />
<text x="0" y="0" font-size="10.5" text-anchor="end" fill="#231f20" font-weight="normal" transform="translate(68.8,627) rotate(-45)" >LIHC</text>
<text x="0" y="0" font-size="10.5" text-anchor="end" fill="#231f20" font-weight="normal" transform="translate(103,627) rotate(-45)" >UCEC</text>
<text x="14" y="666.6" font-size="11" text-anchor="middle" fill="#231f20" font-weight="normal" font-style="italic" >n</text>
<text x="30" y="666.6" font-size="11" text-anchor="middle" fill="#231f20" font-weight="normal" >=</text>
<text x="58.6" y="666.8" font-size="11.3" text-anchor="middle" fill="#231f20" font-weight="normal" >80</text>
<text x="98.6" y="666.8" font-size="11.3" text-anchor="middle" fill="#231f20" font-weight="normal" >100</text>
<path d="M65.5,458.3 L65.53,458.79 L65.56,459.43 L65.59,460.18 L65.64,461.03 L65.7,461.95 L65.77,462.94 L65.87,463.96 L66,465 L66.15,466.07 L66.31,467.21 L66.48,468.4 L66.68,469.64 L66.91,470.92 L67.16,472.25 L67.46,473.61 L67.8,475 L68.2,476.44 L68.68,477.95 L69.2,479.5 L69.75,481.09 L70.31,482.7 L70.85,484.32 L71.35,485.92 L71.8,487.5 L72.22,489.09 L72.64,490.73 L73.04,492.39 L73.42,494.03 L73.76,495.64 L74.05,497.19 L74.27,498.65 L74.4,500 L74.44,501.22 L74.4,502.32 L74.28,503.33 L74.11,504.28 L73.9,505.2 L73.67,506.11 L73.43,507.03 L73.2,508 L72.95,509.01 L72.66,510.04 L72.35,511.07 L72.02,512.09 L71.69,513.11 L71.36,514.11 L71.07,515.07 L70.8,516 L70.56,516.88 L70.34,517.71 L70.13,518.5 L69.93,519.28 L69.75,520.06 L69.58,520.84 L69.43,521.65 L69.3,522.5 L69.18,523.37 L69.06,524.25 L68.95,525.13 L68.86,526.03 L68.8,526.96 L68.76,527.93 L68.76,528.94 L68.8,530 L68.9,531.1 L69.05,532.21 L69.24,533.35 L69.46,534.53 L69.69,535.77 L69.91,537.09 L70.12,538.49 L70.3,540 L70.47,541.65 L70.66,543.46 L70.84,545.37 L71.02,547.34 L71.17,549.34 L71.27,551.31 L71.32,553.21 L71.3,555 L71.2,556.68 L71.02,558.3 L70.79,559.87 L70.51,561.41 L70.21,562.92 L69.9,564.43 L69.59,565.95 L69.3,567.5 L69.02,569.08 L68.72,570.68 L68.41,572.3 L68.1,573.91 L67.79,575.5 L67.48,577.05 L67.18,578.56 L66.9,580 L66.62,581.38 L66.34,582.72 L66.06,584.02 L65.79,585.28 L65.53,586.51 L65.29,587.7 L65.08,588.86 L64.9,590 L64.75,591.1 L64.64,592.14 L64.55,593.15 L64.48,594.12 L64.43,595.09 L64.39,596.05 L64.34,597.01 L64.3,598 L64.26,599.05 L64.23,600.19 L64.2,601.35 L64.19,602.5 L64.18,603.59 L64.17,604.56 L64.16,605.38 L64.15,606 L62.65,606 L62.64,605.38 L62.63,604.56 L62.62,603.59 L62.61,602.5 L62.6,601.35 L62.57,600.19 L62.54,599.05 L62.5,598 L62.46,597.01 L62.41,596.05 L62.37,595.09 L62.32,594.12 L62.25,593.15 L62.16,592.14 L62.05,591.1 L61.9,590 L61.72,588.86 L61.51,587.7 L61.27,586.51 L61.01,585.28 L60.74,584.02 L60.46,582.72 L60.18,581.38 L59.9,580 L59.62,578.56 L59.32,577.05 L59.01,575.5 L58.7,573.91 L58.39,572.3 L58.08,570.68 L57.78,569.08 L57.5,567.5 L57.21,565.95 L56.9,564.43 L56.59,562.92 L56.29,561.41 L56.01,559.87 L55.78,558.3 L55.6,556.68 L55.5,555 L55.48,553.21 L55.53,551.31 L55.63,549.34 L55.78,547.34 L55.96,545.37 L56.14,543.46 L56.33,541.65 L56.5,540 L56.68,538.49 L56.89,537.09 L57.11,535.77 L57.34,534.53 L57.56,533.35 L57.75,532.21 L57.9,531.1 L58,530 L58.04,528.94 L58.04,527.93 L58,526.96 L57.94,526.03 L57.85,525.13 L57.74,524.25 L57.62,523.37 L57.5,522.5 L57.37,521.65 L57.22,520.84 L57.05,520.06 L56.87,519.28 L56.67,518.5 L56.46,517.71 L56.24,516.88 L56,516 L55.73,515.07 L55.44,514.11 L55.11,513.11 L54.78,512.09 L54.45,511.07 L54.14,510.04 L53.85,509.01 L53.6,508 L53.37,507.03 L53.13,506.11 L52.9,505.2 L52.69,504.28 L52.52,503.33 L52.4,502.32 L52.36,501.22 L52.4,500 L52.53,498.65 L52.75,497.19 L53.04,495.64 L53.38,494.03 L53.76,492.39 L54.16,490.73 L54.58,489.09 L55,487.5 L55.45,485.92 L55.95,484.32 L56.49,482.7 L57.05,481.09 L57.6,479.5 L58.12,477.95 L58.6,476.44 L59,475 L59.34,473.61 L59.64,472.25 L59.89,470.92 L60.12,469.64 L60.32,468.4 L60.49,467.21 L60.65,466.07 L60.8,465 L60.93,463.96 L61.03,462.94 L61.1,461.95 L61.16,461.03 L61.21,460.18 L61.24,459.43 L61.27,458.79 L61.3,458.3 Z" fill="#4b4542" stroke="#3a3432" stroke-width="0.5" stroke-linejoin="round"/>
<path d="M107.5,458.3 L107.37,458.6 L107.21,458.98 L107.02,459.42 L106.8,459.93 L106.56,460.5 L106.31,461.12 L106.03,461.79 L105.75,462.5 L105.42,463.28 L105.03,464.14 L104.61,465.07 L104.18,466.04 L103.76,467.04 L103.4,468.05 L103.1,469.04 L102.9,470 L102.77,470.92 L102.67,471.82 L102.61,472.7 L102.62,473.59 L102.69,474.5 L102.85,475.45 L103.12,476.44 L103.5,477.5 L104.05,478.63 L104.77,479.82 L105.61,481.07 L106.53,482.34 L107.48,483.64 L108.41,484.94 L109.26,486.23 L110,487.5 L110.67,488.77 L111.35,490.06 L112,491.36 L112.61,492.66 L113.14,493.93 L113.59,495.18 L113.91,496.37 L114.1,497.5 L114.13,498.54 L114.03,499.49 L113.82,500.39 L113.51,501.25 L113.12,502.11 L112.68,503.01 L112.2,503.96 L111.7,505 L111.14,506.15 L110.47,507.39 L109.72,508.7 L108.94,510.03 L108.16,511.36 L107.4,512.65 L106.7,513.88 L106.1,515 L105.58,516.03 L105.11,517 L104.68,517.91 L104.29,518.78 L103.93,519.62 L103.6,520.43 L103.29,521.22 L103,522 L102.73,522.75 L102.49,523.43 L102.27,524.08 L102.08,524.72 L101.92,525.36 L101.78,526.02 L101.68,526.73 L101.6,527.5 L101.56,528.32 L101.56,529.18 L101.6,530.06 L101.66,530.97 L101.74,531.92 L101.83,532.9 L101.92,533.93 L102,535 L102.1,536.13 L102.24,537.32 L102.4,538.57 L102.56,539.84 L102.69,541.14 L102.79,542.44 L102.84,543.73 L102.8,545 L102.67,546.25 L102.47,547.5 L102.2,548.75 L101.9,550 L101.58,551.25 L101.26,552.5 L100.96,553.75 L100.7,555 L100.47,556.25 L100.23,557.5 L100.01,558.75 L99.79,560 L99.58,561.25 L99.4,562.5 L99.23,563.75 L99.1,565 L99,566.16 L98.93,567.2 L98.88,568.18 L98.85,569.19 L98.83,570.3 L98.82,571.59 L98.81,573.13 L98.8,575 L98.78,577.36 L98.77,580.21 L98.77,583.38 L98.77,586.69 L98.77,589.98 L98.78,593.07 L98.79,595.8 L98.8,598 L98.82,599.69 L98.84,601.04 L98.87,602.1 L98.9,602.94 L98.93,603.59 L98.96,604.12 L98.98,604.57 L99,605 L98,605 L98.02,604.57 L98.04,604.12 L98.07,603.59 L98.1,602.94 L98.13,602.1 L98.16,601.04 L98.18,599.69 L98.2,598 L98.21,595.8 L98.22,593.07 L98.23,589.98 L98.23,586.69 L98.23,583.38 L98.23,580.21 L98.22,577.36 L98.2,575 L98.19,573.13 L98.18,571.59 L98.17,570.3 L98.15,569.19 L98.12,568.18 L98.07,567.2 L98,566.16 L97.9,565 L97.77,563.75 L97.6,562.5 L97.42,561.25 L97.21,560 L96.99,558.75 L96.77,557.5 L96.53,556.25 L96.3,555 L96.04,553.75 L95.74,552.5 L95.42,551.25 L95.1,550 L94.8,548.75 L94.53,547.5 L94.33,546.25 L94.2,545 L94.16,543.73 L94.21,542.44 L94.31,541.14 L94.44,539.84 L94.6,538.57 L94.76,537.32 L94.9,536.13 L95,535 L95.08,533.93 L95.17,532.9 L95.26,531.92 L95.34,530.97 L95.4,530.06 L95.44,529.18 L95.44,528.32 L95.4,527.5 L95.32,526.73 L95.22,526.02 L95.08,525.36 L94.92,524.72 L94.73,524.08 L94.51,523.43 L94.27,522.75 L94,522 L93.71,521.22 L93.4,520.43 L93.07,519.62 L92.71,518.78 L92.32,517.91 L91.89,517 L91.42,516.03 L90.9,515 L90.3,513.88 L89.6,512.65 L88.84,511.36 L88.06,510.03 L87.28,508.7 L86.53,507.39 L85.86,506.15 L85.3,505 L84.8,503.96 L84.32,503.01 L83.88,502.11 L83.49,501.25 L83.18,500.39 L82.97,499.49 L82.87,498.54 L82.9,497.5 L83.09,496.37 L83.41,495.18 L83.86,493.93 L84.39,492.66 L85,491.36 L85.65,490.06 L86.33,488.77 L87,487.5 L87.74,486.23 L88.59,484.94 L89.52,483.64 L90.47,482.34 L91.39,481.07 L92.23,479.82 L92.95,478.63 L93.5,477.5 L93.88,476.44 L94.15,475.45 L94.31,474.5 L94.38,473.59 L94.39,472.7 L94.33,471.82 L94.23,470.92 L94.1,470 L93.9,469.04 L93.6,468.05 L93.24,467.04 L92.82,466.04 L92.39,465.07 L91.97,464.14 L91.58,463.28 L91.25,462.5 L90.97,461.79 L90.69,461.12 L90.44,460.5 L90.2,459.93 L89.98,459.42 L89.79,458.98 L89.63,458.6 L89.5,458.3 Z" fill="#f6977a" stroke="#3a3432" stroke-width="0.7" stroke-linejoin="round"/>
<ellipse cx="63.3" cy="506.7" rx="1.7" ry="2.1" fill="#ee1c25"/>
<ellipse cx="98.6" cy="498.3" rx="1.7" ry="2.1" fill="#ee1c25"/>
<text x="147" y="388.6" font-size="17" text-anchor="start" fill="#000" font-weight="bold" >d</text>
<text x="164.2" y="408.8" font-size="13.5" text-anchor="middle" fill="#231f20" font-weight="normal" font-style="italic" >n</text>
<text x="174.1" y="408.8" font-size="12.5" text-anchor="middle" fill="#231f20" font-weight="normal" >=</text>
<line x1="186.5" y1="420.5" x2="665.5" y2="420.5" stroke="#888" stroke-width="1" />
<line x1="665.5" y1="420.5" x2="665.5" y2="616.5" stroke="#888" stroke-width="1" />
<line x1="186.5" y1="420.5" x2="186.5" y2="616.5" stroke="#888" stroke-width="1" />
<line x1="186.5" y1="616.5" x2="665.5" y2="616.5" stroke="#888" stroke-width="1" />
<line x1="182" y1="429.5" x2="186.5" y2="429.5" stroke="#888" stroke-width="1" />
<text x="177.4" y="433.7" font-size="10.8" text-anchor="end" fill="#404040" font-weight="normal" >30</text>
<line x1="182" y1="491.5" x2="186.5" y2="491.5" stroke="#888" stroke-width="1" />
<text x="177.4" y="495.6" font-size="10.8" text-anchor="end" fill="#404040" font-weight="normal" >20</text>
<line x1="182" y1="553.5" x2="186.5" y2="553.5" stroke="#888" stroke-width="1" />
<text x="177.4" y="557.7" font-size="10.8" text-anchor="end" fill="#404040" font-weight="normal" >10</text>
<line x1="182" y1="616.5" x2="186.5" y2="616.5" stroke="#888" stroke-width="1" />
<text x="177.4" y="620.1" font-size="10.8" text-anchor="end" fill="#404040" font-weight="normal" >0</text>
<text x="0" y="0" font-size="12" text-anchor="middle" fill="#231f20" font-weight="normal" transform="translate(157.3,518) rotate(-90)" >MES</text>
<text x="0" y="0" font-size="12.8" text-anchor="middle" fill="#231f20" font-weight="normal" transform="translate(670.3,461) rotate(90)" >Strong</text>
<text x="0" y="0" font-size="12.8" text-anchor="middle" fill="#231f20" font-weight="normal" transform="translate(670.3,559.6) rotate(90)" >Weak</text>
<path d="M206.5,428.8 L206.47,429.68 L206.42,430.85 L206.37,432.26 L206.31,433.81 L206.25,435.44 L206.19,437.06 L206.14,438.61 L206.1,440 L206.07,441.23 L206.04,442.35 L206.01,443.43 L205.99,444.49 L205.98,445.57 L205.98,446.73 L205.98,447.99 L206,449.4 L206.03,451.01 L206.06,452.8 L206.1,454.71 L206.14,456.67 L206.21,458.65 L206.28,460.57 L206.38,462.37 L206.5,464 L206.67,465.45 L206.9,466.76 L207.17,467.98 L207.45,469.13 L207.71,470.26 L207.92,471.39 L208.06,472.56 L208.1,473.8 L208.02,475.11 L207.83,476.46 L207.57,477.83 L207.26,479.22 L206.94,480.61 L206.64,481.99 L206.38,483.36 L206.2,484.7 L206.09,486.02 L206.03,487.32 L205.99,488.61 L205.98,489.89 L205.99,491.16 L206,492.44 L206,493.72 L206,495 L205.99,496.31 L205.97,497.66 L205.96,499.02 L205.96,500.38 L205.95,501.7 L205.96,502.98 L205.97,504.18 L206,505.3 L206.03,506.32 L206.07,507.27 L206.12,508.15 L206.18,508.98 L206.24,509.77 L206.31,510.53 L206.4,511.27 L206.5,512 L206.58,512.69 L206.63,513.31 L206.67,513.89 L206.74,514.46 L206.85,515.02 L207.03,515.62 L207.3,516.27 L207.7,517 L208.32,517.81 L209.17,518.68 L210.16,519.6 L211.21,520.55 L212.2,521.52 L213.06,522.49 L213.69,523.46 L214,524.4 L213.85,525.31 L213.29,526.18 L212.45,527.05 L211.49,527.92 L210.57,528.82 L209.83,529.75 L209.42,530.74 L209.5,531.8 L210.19,532.98 L211.4,534.27 L212.96,535.65 L214.69,537.05 L216.43,538.43 L217.99,539.75 L219.21,540.95 L219.9,542 L220.08,542.87 L219.9,543.61 L219.45,544.24 L218.79,544.8 L217.99,545.32 L217.13,545.84 L216.28,546.39 L215.5,547 L214.72,547.61 L213.82,548.18 L212.86,548.72 L211.87,549.29 L210.9,549.9 L209.98,550.6 L209.17,551.43 L208.5,552.4 L207.97,553.57 L207.52,554.92 L207.16,556.41 L206.86,557.97 L206.63,559.57 L206.45,561.14 L206.31,562.63 L206.2,564 L206.16,565.23 L206.22,566.37 L206.35,567.45 L206.52,568.49 L206.7,569.54 L206.85,570.62 L206.96,571.76 L207,573 L206.94,574.35 L206.82,575.8 L206.65,577.32 L206.46,578.86 L206.27,580.41 L206.12,581.92 L206.02,583.36 L206,584.7 L206.08,585.93 L206.24,587.07 L206.46,588.15 L206.71,589.19 L206.97,590.22 L207.2,591.26 L207.39,592.35 L207.5,593.5 L207.54,594.79 L207.52,596.21 L207.47,597.71 L207.39,599.2 L207.3,600.63 L207.22,601.91 L207.14,603 L207.1,603.8 L203.9,603.8 L203.86,603 L203.78,601.91 L203.7,600.63 L203.61,599.2 L203.53,597.71 L203.48,596.21 L203.46,594.79 L203.5,593.5 L203.61,592.35 L203.8,591.26 L204.03,590.22 L204.29,589.19 L204.54,588.15 L204.76,587.07 L204.92,585.93 L205,584.7 L204.98,583.36 L204.88,581.92 L204.73,580.41 L204.54,578.86 L204.35,577.32 L204.18,575.8 L204.06,574.35 L204,573 L204.04,571.76 L204.15,570.62 L204.3,569.54 L204.48,568.49 L204.65,567.45 L204.78,566.37 L204.84,565.23 L204.8,564 L204.69,562.63 L204.55,561.14 L204.37,559.57 L204.14,557.97 L203.84,556.41 L203.48,554.92 L203.03,553.57 L202.5,552.4 L201.83,551.43 L201.02,550.6 L200.1,549.9 L199.13,549.29 L198.14,548.72 L197.18,548.18 L196.28,547.61 L195.5,547 L194.72,546.39 L193.87,545.84 L193.01,545.32 L192.21,544.8 L191.55,544.24 L191.1,543.61 L190.92,542.87 L191.1,542 L191.79,540.95 L193.01,539.75 L194.57,538.43 L196.31,537.05 L198.04,535.65 L199.6,534.27 L200.81,532.98 L201.5,531.8 L201.58,530.74 L201.17,529.75 L200.43,528.82 L199.51,527.92 L198.55,527.05 L197.71,526.18 L197.15,525.31 L197,524.4 L197.31,523.46 L197.94,522.49 L198.8,521.52 L199.79,520.55 L200.84,519.6 L201.83,518.68 L202.68,517.81 L203.3,517 L203.7,516.27 L203.97,515.62 L204.15,515.02 L204.26,514.46 L204.33,513.89 L204.37,513.31 L204.42,512.69 L204.5,512 L204.6,511.27 L204.69,510.53 L204.76,509.77 L204.82,508.98 L204.88,508.15 L204.93,507.27 L204.97,506.32 L205,505.3 L205.03,504.18 L205.04,502.98 L205.05,501.7 L205.04,500.38 L205.04,499.02 L205.03,497.66 L205.01,496.31 L205,495 L205,493.72 L205,492.44 L205.01,491.16 L205.02,489.89 L205.01,488.61 L204.97,487.32 L204.91,486.02 L204.8,484.7 L204.62,483.36 L204.36,481.99 L204.06,480.61 L203.74,479.22 L203.43,477.83 L203.17,476.46 L202.98,475.11 L202.9,473.8 L202.94,472.56 L203.08,471.39 L203.29,470.26 L203.55,469.13 L203.83,467.98 L204.1,466.76 L204.33,465.45 L204.5,464 L204.62,462.37 L204.72,460.57 L204.79,458.65 L204.86,456.67 L204.9,454.71 L204.94,452.8 L204.97,451.01 L205,449.4 L205.02,447.99 L205.02,446.73 L205.02,445.57 L205.01,444.49 L204.99,443.43 L204.96,442.35 L204.93,441.23 L204.9,440 L204.86,438.61 L204.81,437.06 L204.75,435.44 L204.69,433.81 L204.63,432.26 L204.58,430.85 L204.53,429.68 L204.5,428.8 Z" fill="#7dcaf2" stroke="#1a1718" stroke-width="0.9" stroke-linejoin="round"/>
<path d="M237,433.2 L237,434.52 L236.99,436.28 L236.98,438.39 L236.97,440.72 L236.96,443.17 L236.96,445.6 L236.98,447.92 L237,450 L237.02,451.91 L237.04,453.8 L237.05,455.64 L237.07,457.44 L237.12,459.18 L237.2,460.86 L237.32,462.47 L237.5,464 L237.78,465.42 L238.18,466.72 L238.64,467.93 L239.12,469.09 L239.58,470.23 L239.96,471.37 L240.22,472.55 L240.3,473.8 L240.17,475.03 L239.87,476.16 L239.44,477.26 L238.93,478.41 L238.4,479.66 L237.9,481.08 L237.48,482.74 L237.2,484.7 L237.03,487.12 L236.93,489.99 L236.88,493.16 L236.87,496.47 L236.9,499.76 L236.95,502.89 L237.02,505.69 L237.1,508 L237.18,509.81 L237.28,511.26 L237.39,512.42 L237.53,513.39 L237.7,514.25 L237.91,515.09 L238.18,515.97 L238.5,517 L238.94,518.13 L239.51,519.26 L240.17,520.39 L240.85,521.52 L241.51,522.65 L242.09,523.77 L242.53,524.89 L242.8,526 L242.83,527.1 L242.65,528.19 L242.34,529.28 L241.95,530.36 L241.55,531.44 L241.22,532.53 L241.01,533.61 L241,534.7 L241.25,535.77 L241.71,536.82 L242.32,537.86 L242.98,538.91 L243.61,539.98 L244.13,541.09 L244.46,542.26 L244.5,543.5 L244.22,544.85 L243.67,546.29 L242.93,547.8 L242.07,549.34 L241.18,550.9 L240.32,552.43 L239.57,553.9 L239,555.3 L238.59,556.6 L238.27,557.84 L238.01,559.03 L237.81,560.2 L237.65,561.36 L237.52,562.53 L237.41,563.74 L237.3,565 L237.2,566.33 L237.13,567.71 L237.08,569.12 L237.06,570.54 L237.06,571.96 L237.09,573.36 L237.13,574.71 L237.2,576 L237.29,577.22 L237.42,578.4 L237.58,579.54 L237.76,580.66 L237.94,581.75 L238.14,582.83 L238.32,583.91 L238.5,585 L238.69,586.1 L238.9,587.21 L239.13,588.31 L239.36,589.41 L239.56,590.48 L239.73,591.53 L239.85,592.54 L239.9,593.5 L239.87,594.42 L239.78,595.29 L239.64,596.14 L239.46,596.95 L239.26,597.74 L239.06,598.51 L238.87,599.26 L238.7,600 L238.54,600.76 L238.37,601.53 L238.2,602.31 L238.03,603.06 L237.86,603.75 L237.72,604.38 L237.59,604.9 L237.5,605.3 L235.5,605.3 L235.41,604.9 L235.28,604.38 L235.14,603.75 L234.97,603.06 L234.8,602.31 L234.63,601.53 L234.46,600.76 L234.3,600 L234.13,599.26 L233.94,598.51 L233.74,597.74 L233.54,596.95 L233.36,596.14 L233.22,595.29 L233.13,594.42 L233.1,593.5 L233.15,592.54 L233.27,591.53 L233.44,590.48 L233.64,589.41 L233.87,588.31 L234.1,587.21 L234.31,586.1 L234.5,585 L234.68,583.91 L234.86,582.83 L235.06,581.75 L235.24,580.66 L235.42,579.54 L235.58,578.4 L235.71,577.22 L235.8,576 L235.87,574.71 L235.91,573.36 L235.94,571.96 L235.94,570.54 L235.92,569.12 L235.87,567.71 L235.8,566.33 L235.7,565 L235.59,563.74 L235.48,562.53 L235.35,561.36 L235.19,560.2 L234.99,559.03 L234.73,557.84 L234.41,556.6 L234,555.3 L233.43,553.9 L232.68,552.43 L231.82,550.9 L230.93,549.34 L230.07,547.8 L229.33,546.29 L228.78,544.85 L228.5,543.5 L228.54,542.26 L228.87,541.09 L229.39,539.98 L230.02,538.91 L230.68,537.86 L231.29,536.82 L231.75,535.77 L232,534.7 L231.99,533.61 L231.78,532.53 L231.45,531.44 L231.05,530.36 L230.66,529.28 L230.35,528.19 L230.17,527.1 L230.2,526 L230.47,524.89 L230.91,523.77 L231.49,522.65 L232.15,521.52 L232.83,520.39 L233.49,519.26 L234.06,518.13 L234.5,517 L234.82,515.97 L235.09,515.09 L235.3,514.25 L235.47,513.39 L235.61,512.42 L235.72,511.26 L235.82,509.81 L235.9,508 L235.98,505.69 L236.05,502.89 L236.1,499.76 L236.13,496.47 L236.12,493.16 L236.07,489.99 L235.97,487.12 L235.8,484.7 L235.52,482.74 L235.1,481.08 L234.6,479.66 L234.07,478.41 L233.56,477.26 L233.13,476.16 L232.83,475.03 L232.7,473.8 L232.78,472.55 L233.04,471.37 L233.42,470.23 L233.88,469.09 L234.36,467.93 L234.82,466.72 L235.22,465.42 L235.5,464 L235.68,462.47 L235.8,460.86 L235.88,459.18 L235.93,457.44 L235.95,455.64 L235.96,453.8 L235.98,451.91 L236,450 L236.02,447.92 L236.04,445.6 L236.04,443.17 L236.03,440.72 L236.02,438.39 L236.01,436.28 L236,434.52 L236,433.2 Z" fill="#8b7fc2" stroke="#1a1718" stroke-width="0.9" stroke-linejoin="round"/>
<path d="M269.5,428.8 L269.5,430.45 L269.5,432.71 L269.49,435.4 L269.49,438.36 L269.5,441.41 L269.53,444.39 L269.6,447.11 L269.7,449.4 L269.85,451.29 L270.03,452.94 L270.24,454.41 L270.48,455.76 L270.73,457.06 L270.99,458.36 L271.25,459.72 L271.5,461.2 L271.78,462.78 L272.1,464.4 L272.45,466.05 L272.79,467.71 L273.11,469.39 L273.36,471.07 L273.54,472.74 L273.6,474.4 L273.54,476.03 L273.37,477.63 L273.12,479.22 L272.81,480.81 L272.46,482.43 L272.12,484.09 L271.79,485.81 L271.5,487.6 L271.22,489.52 L270.9,491.58 L270.57,493.72 L270.24,495.89 L269.95,498.03 L269.72,500.1 L269.56,502.04 L269.5,503.8 L269.56,505.35 L269.72,506.73 L269.95,507.99 L270.24,509.17 L270.57,510.31 L270.9,511.47 L271.22,512.68 L271.5,514 L271.79,515.39 L272.13,516.79 L272.49,518.21 L272.84,519.67 L273.15,521.16 L273.4,522.69 L273.56,524.27 L273.6,525.9 L273.49,527.6 L273.25,529.38 L272.92,531.21 L272.52,533.07 L272.1,534.96 L271.68,536.86 L271.3,538.74 L271,540.6 L270.75,542.37 L270.51,544.04 L270.29,545.67 L270.09,547.33 L269.9,549.06 L269.74,550.92 L269.61,552.98 L269.5,555.3 L269.43,557.9 L269.39,560.76 L269.39,563.8 L269.41,566.99 L269.43,570.25 L269.46,573.55 L269.49,576.82 L269.5,580 L269.5,583.31 L269.5,586.88 L269.5,590.56 L269.5,594.19 L269.5,597.64 L269.5,600.74 L269.5,603.34 L269.5,605.3 L267.5,605.3 L267.5,603.34 L267.5,600.74 L267.5,597.64 L267.5,594.19 L267.5,590.56 L267.5,586.88 L267.5,583.31 L267.5,580 L267.51,576.82 L267.54,573.55 L267.57,570.25 L267.59,566.99 L267.61,563.8 L267.61,560.76 L267.57,557.9 L267.5,555.3 L267.39,552.98 L267.26,550.92 L267.1,549.06 L266.91,547.33 L266.71,545.67 L266.49,544.04 L266.25,542.37 L266,540.6 L265.7,538.74 L265.32,536.86 L264.9,534.96 L264.48,533.07 L264.08,531.21 L263.75,529.38 L263.51,527.6 L263.4,525.9 L263.44,524.27 L263.6,522.69 L263.85,521.16 L264.16,519.67 L264.51,518.21 L264.87,516.79 L265.21,515.39 L265.5,514 L265.78,512.68 L266.1,511.47 L266.43,510.31 L266.76,509.17 L267.05,507.99 L267.28,506.73 L267.44,505.35 L267.5,503.8 L267.44,502.04 L267.28,500.1 L267.05,498.03 L266.76,495.89 L266.43,493.72 L266.1,491.58 L265.78,489.52 L265.5,487.6 L265.21,485.81 L264.88,484.09 L264.54,482.43 L264.19,480.81 L263.88,479.22 L263.63,477.63 L263.46,476.03 L263.4,474.4 L263.46,472.74 L263.64,471.07 L263.89,469.39 L264.21,467.71 L264.55,466.05 L264.9,464.4 L265.22,462.78 L265.5,461.2 L265.75,459.72 L266.01,458.36 L266.27,457.06 L266.52,455.76 L266.76,454.41 L266.97,452.94 L267.15,451.29 L267.3,449.4 L267.4,447.11 L267.47,444.39 L267.5,441.41 L267.51,438.36 L267.51,435.4 L267.5,432.71 L267.5,430.45 L267.5,428.8 Z" fill="#9c8680" stroke="#1a1718" stroke-width="0.9" stroke-linejoin="round"/>
<path d="M300.8,428.8 L300.8,430.45 L300.78,432.71 L300.76,435.4 L300.74,438.36 L300.75,441.41 L300.78,444.39 L300.86,447.11 L301,449.4 L301.2,451.29 L301.46,452.94 L301.76,454.41 L302.1,455.76 L302.45,457.06 L302.81,458.36 L303.17,459.72 L303.5,461.2 L303.86,462.78 L304.26,464.4 L304.7,466.05 L305.12,467.71 L305.5,469.39 L305.81,471.07 L306.02,472.74 L306.1,474.4 L306.02,476.03 L305.8,477.63 L305.48,479.22 L305.09,480.81 L304.66,482.43 L304.23,484.09 L303.83,485.81 L303.5,487.6 L303.2,489.52 L302.89,491.58 L302.57,493.72 L302.27,495.89 L302,498.03 L301.77,500.1 L301.6,502.04 L301.5,503.8 L301.48,505.33 L301.54,506.66 L301.66,507.86 L301.81,508.99 L301.99,510.1 L302.18,511.27 L302.35,512.55 L302.5,514 L302.64,515.63 L302.8,517.38 L302.96,519.22 L303.12,521.12 L303.27,523.06 L303.39,525 L303.47,526.92 L303.5,528.8 L303.47,530.64 L303.4,532.48 L303.29,534.32 L303.16,536.16 L303,537.99 L302.83,539.83 L302.66,541.66 L302.5,543.5 L302.33,545.29 L302.13,547.01 L301.92,548.7 L301.71,550.41 L301.5,552.17 L301.3,554.03 L301.13,556.02 L301,558.2 L300.9,560.55 L300.83,563.03 L300.79,565.64 L300.76,568.34 L300.74,571.15 L300.73,574.03 L300.71,576.99 L300.7,580 L300.69,583.29 L300.68,586.98 L300.68,590.86 L300.68,594.76 L300.69,598.49 L300.69,601.87 L300.7,604.7 L300.7,606.8 L298.3,606.8 L298.3,604.7 L298.31,601.87 L298.31,598.49 L298.32,594.76 L298.32,590.86 L298.32,586.98 L298.31,583.29 L298.3,580 L298.29,576.99 L298.27,574.03 L298.26,571.15 L298.24,568.34 L298.21,565.64 L298.17,563.03 L298.1,560.55 L298,558.2 L297.87,556.02 L297.7,554.03 L297.5,552.17 L297.29,550.41 L297.08,548.7 L296.87,547.01 L296.67,545.29 L296.5,543.5 L296.34,541.66 L296.17,539.83 L296,537.99 L295.84,536.16 L295.71,534.32 L295.6,532.48 L295.53,530.64 L295.5,528.8 L295.53,526.92 L295.61,525 L295.73,523.06 L295.88,521.12 L296.04,519.22 L296.2,517.38 L296.36,515.63 L296.5,514 L296.65,512.55 L296.82,511.27 L297.01,510.1 L297.19,508.99 L297.34,507.86 L297.46,506.66 L297.52,505.33 L297.5,503.8 L297.4,502.04 L297.23,500.1 L297,498.03 L296.73,495.89 L296.43,493.72 L296.11,491.58 L295.8,489.52 L295.5,487.6 L295.17,485.81 L294.77,484.09 L294.34,482.43 L293.91,480.81 L293.52,479.22 L293.2,477.63 L292.98,476.03 L292.9,474.4 L292.98,472.74 L293.19,471.07 L293.5,469.39 L293.88,467.71 L294.3,466.05 L294.74,464.4 L295.14,462.78 L295.5,461.2 L295.83,459.72 L296.19,458.36 L296.55,457.06 L296.9,455.76 L297.24,454.41 L297.54,452.94 L297.8,451.29 L298,449.4 L298.14,447.11 L298.22,444.39 L298.25,441.41 L298.26,438.36 L298.24,435.4 L298.22,432.71 L298.2,430.45 L298.2,428.8 Z" fill="#4a4340" stroke="#1a1718" stroke-width="0.9" stroke-linejoin="round"/>
<path d="M331.9,428.8 L331.89,430.71 L331.88,433.4 L331.86,436.6 L331.85,440.09 L331.84,443.61 L331.84,446.94 L331.86,449.81 L331.9,452 L331.95,453.5 L332.02,454.55 L332.1,455.25 L332.19,455.7 L332.29,456 L332.41,456.25 L332.55,456.55 L332.7,457 L332.86,457.54 L333.03,458.06 L333.21,458.55 L333.4,459.03 L333.62,459.5 L333.87,459.98 L334.16,460.48 L334.5,461 L334.89,461.55 L335.35,462.11 L335.84,462.69 L336.36,463.27 L336.9,463.86 L337.45,464.45 L337.98,465.03 L338.5,465.6 L339.01,466.16 L339.53,466.72 L340.06,467.28 L340.59,467.84 L341.1,468.39 L341.6,468.93 L342.07,469.47 L342.5,470 L342.93,470.51 L343.37,471.01 L343.81,471.49 L344.21,471.98 L344.57,472.46 L344.85,472.95 L345.03,473.46 L345.1,474 L345.04,474.57 L344.87,475.16 L344.61,475.77 L344.27,476.39 L343.88,477.01 L343.44,477.62 L342.98,478.22 L342.5,478.8 L341.98,479.35 L341.38,479.88 L340.73,480.4 L340.06,480.91 L339.37,481.42 L338.7,481.94 L338.07,482.46 L337.5,483 L336.98,483.56 L336.47,484.15 L335.99,484.75 L335.53,485.35 L335.1,485.95 L334.7,486.52 L334.33,487.08 L334,487.6 L333.71,488.04 L333.45,488.4 L333.23,488.72 L333.04,489.03 L332.88,489.37 L332.74,489.78 L332.61,490.32 L332.5,491 L332.41,491.86 L332.35,492.88 L332.31,494.01 L332.29,495.21 L332.29,496.45 L332.29,497.69 L332.3,498.88 L332.3,500 L332.3,501.06 L332.3,502.12 L332.3,503.16 L332.31,504.19 L332.33,505.19 L332.37,506.16 L332.42,507.1 L332.5,508 L332.59,508.85 L332.68,509.64 L332.78,510.4 L332.91,511.12 L333.05,511.84 L333.23,512.55 L333.44,513.26 L333.7,514 L334.02,514.75 L334.41,515.5 L334.85,516.25 L335.31,517.01 L335.77,517.76 L336.22,518.51 L336.64,519.25 L337,520 L337.33,520.74 L337.66,521.48 L337.98,522.22 L338.27,522.96 L338.53,523.69 L338.73,524.43 L338.85,525.16 L338.9,525.9 L338.85,526.64 L338.72,527.38 L338.51,528.12 L338.26,528.86 L337.96,529.59 L337.64,530.33 L337.32,531.07 L337,531.8 L336.66,532.53 L336.27,533.25 L335.85,533.98 L335.41,534.7 L334.99,535.42 L334.6,536.15 L334.26,536.87 L334,537.6 L333.82,538.33 L333.7,539.07 L333.63,539.81 L333.6,540.54 L333.58,541.28 L333.57,542.02 L333.55,542.76 L333.5,543.5 L333.43,544.24 L333.37,544.98 L333.3,545.71 L333.23,546.45 L333.16,547.19 L333.08,547.92 L332.99,548.66 L332.9,549.4 L332.79,549.82 L332.66,549.78 L332.51,549.56 L332.37,549.42 L332.23,549.66 L332.1,550.53 L331.98,552.32 L331.9,555.3 L331.84,560.01 L331.81,566.42 L331.79,573.95 L331.79,582.02 L331.79,590.04 L331.8,597.43 L331.8,603.61 L331.8,608 L331.2,608 L331.2,603.61 L331.2,597.43 L331.21,590.04 L331.21,582.02 L331.21,573.95 L331.19,566.42 L331.16,560.01 L331.1,555.3 L331.02,552.32 L330.9,550.53 L330.77,549.66 L330.63,549.42 L330.49,549.56 L330.34,549.78 L330.21,549.82 L330.1,549.4 L330.01,548.66 L329.92,547.92 L329.84,547.19 L329.77,546.45 L329.7,545.71 L329.63,544.98 L329.57,544.24 L329.5,543.5 L329.45,542.76 L329.43,542.02 L329.42,541.28 L329.4,540.54 L329.37,539.81 L329.3,539.07 L329.18,538.33 L329,537.6 L328.74,536.87 L328.4,536.15 L328.01,535.42 L327.59,534.7 L327.15,533.98 L326.73,533.25 L326.34,532.53 L326,531.8 L325.68,531.07 L325.36,530.33 L325.04,529.59 L324.74,528.86 L324.49,528.12 L324.28,527.38 L324.15,526.64 L324.1,525.9 L324.15,525.16 L324.27,524.43 L324.47,523.69 L324.73,522.96 L325.02,522.22 L325.34,521.48 L325.67,520.74 L326,520 L326.36,519.25 L326.78,518.51 L327.23,517.76 L327.69,517.01 L328.15,516.25 L328.59,515.5 L328.98,514.75 L329.3,514 L329.56,513.26 L329.77,512.55 L329.95,511.84 L330.09,511.12 L330.22,510.4 L330.32,509.64 L330.41,508.85 L330.5,508 L330.58,507.1 L330.63,506.16 L330.67,505.19 L330.69,504.19 L330.7,503.16 L330.7,502.12 L330.7,501.06 L330.7,500 L330.7,498.88 L330.71,497.69 L330.71,496.45 L330.71,495.21 L330.69,494.01 L330.65,492.88 L330.59,491.86 L330.5,491 L330.39,490.32 L330.26,489.78 L330.12,489.37 L329.96,489.03 L329.77,488.72 L329.55,488.4 L329.29,488.04 L329,487.6 L328.67,487.08 L328.3,486.52 L327.9,485.95 L327.47,485.35 L327.01,484.75 L326.53,484.15 L326.02,483.56 L325.5,483 L324.93,482.46 L324.3,481.94 L323.63,481.42 L322.94,480.91 L322.27,480.4 L321.62,479.88 L321.02,479.35 L320.5,478.8 L320.02,478.22 L319.56,477.62 L319.12,477.01 L318.73,476.39 L318.39,475.77 L318.13,475.16 L317.96,474.57 L317.9,474 L317.97,473.46 L318.15,472.95 L318.43,472.46 L318.79,471.98 L319.19,471.49 L319.63,471.01 L320.07,470.51 L320.5,470 L320.93,469.47 L321.4,468.93 L321.9,468.39 L322.41,467.84 L322.94,467.28 L323.47,466.72 L323.99,466.16 L324.5,465.6 L325.02,465.03 L325.55,464.45 L326.1,463.86 L326.64,463.27 L327.16,462.69 L327.65,462.11 L328.11,461.55 L328.5,461 L328.84,460.48 L329.13,459.98 L329.38,459.5 L329.6,459.03 L329.79,458.55 L329.97,458.06 L330.14,457.54 L330.3,457 L330.45,456.55 L330.59,456.25 L330.71,456 L330.81,455.7 L330.9,455.25 L330.98,454.55 L331.05,453.5 L331.1,452 L331.14,449.81 L331.16,446.94 L331.16,443.61 L331.15,440.09 L331.14,436.6 L331.12,433.4 L331.11,430.71 L331.1,428.8 Z" fill="#8dcf9b" stroke="#1a1718" stroke-width="0.9" stroke-linejoin="round"/>
<path d="M365.4,428.8 L365.32,430.37 L365.19,432.43 L365.04,434.88 L364.89,437.62 L364.74,440.55 L364.61,443.56 L364.53,446.54 L364.5,449.4 L364.55,452.25 L364.66,455.23 L364.82,458.29 L365.01,461.39 L365.19,464.46 L365.35,467.45 L365.46,470.32 L365.5,473 L365.47,475.51 L365.38,477.89 L365.25,480.17 L365.09,482.36 L364.93,484.48 L364.76,486.54 L364.61,488.58 L364.5,490.6 L364.4,492.56 L364.31,494.41 L364.22,496.19 L364.14,497.94 L364.07,499.7 L364.02,501.48 L364,503.34 L364,505.3 L364.05,507.35 L364.15,509.45 L364.28,511.59 L364.42,513.79 L364.56,516.03 L364.68,518.31 L364.77,520.63 L364.8,523 L364.78,525.45 L364.71,527.99 L364.61,530.61 L364.49,533.25 L364.36,535.89 L364.23,538.51 L364.11,541.05 L364,543.5 L363.9,545.67 L363.81,547.5 L363.71,549.18 L363.61,550.88 L363.52,552.75 L363.44,554.98 L363.36,557.74 L363.3,561.2 L363.25,565.75 L363.21,571.4 L363.18,577.74 L363.16,584.36 L363.14,590.83 L363.12,596.76 L363.11,601.72 L363.1,605.3 L361.9,605.3 L361.89,601.72 L361.88,596.76 L361.86,590.83 L361.84,584.36 L361.82,577.74 L361.79,571.4 L361.75,565.75 L361.7,561.2 L361.64,557.74 L361.56,554.98 L361.48,552.75 L361.39,550.88 L361.29,549.18 L361.19,547.5 L361.1,545.67 L361,543.5 L360.89,541.05 L360.77,538.51 L360.64,535.89 L360.51,533.25 L360.39,530.61 L360.29,527.99 L360.22,525.45 L360.2,523 L360.23,520.63 L360.32,518.31 L360.44,516.03 L360.58,513.79 L360.72,511.59 L360.85,509.45 L360.95,507.35 L361,505.3 L361,503.34 L360.98,501.48 L360.93,499.7 L360.86,497.94 L360.78,496.19 L360.69,494.41 L360.6,492.56 L360.5,490.6 L360.39,488.58 L360.24,486.54 L360.07,484.48 L359.91,482.36 L359.75,480.17 L359.62,477.89 L359.53,475.51 L359.5,473 L359.54,470.32 L359.65,467.45 L359.81,464.46 L359.99,461.39 L360.18,458.29 L360.34,455.23 L360.45,452.25 L360.5,449.4 L360.47,446.54 L360.39,443.56 L360.26,440.55 L360.11,437.62 L359.96,434.88 L359.81,432.43 L359.68,430.37 L359.6,428.8 Z" fill="#4b8ca2" stroke="#1a1718" stroke-width="0.9" stroke-linejoin="round"/>
<path d="M396,428.8 L396.07,430.45 L396.17,432.71 L396.28,435.4 L396.41,438.36 L396.54,441.41 L396.69,444.39 L396.84,447.11 L397,449.4 L397.17,451.3 L397.36,452.97 L397.56,454.47 L397.77,455.85 L397.97,457.16 L398.17,458.46 L398.35,459.79 L398.5,461.2 L398.64,462.66 L398.79,464.08 L398.93,465.5 L399.05,466.93 L399.15,468.37 L399.21,469.85 L399.23,471.39 L399.2,473 L399.1,474.67 L398.95,476.38 L398.74,478.13 L398.51,479.93 L398.25,481.77 L397.99,483.67 L397.73,485.61 L397.5,487.6 L397.26,489.68 L397,491.88 L396.72,494.14 L396.44,496.44 L396.19,498.75 L395.97,501.01 L395.8,503.21 L395.7,505.3 L395.68,507.28 L395.72,509.19 L395.82,511.03 L395.96,512.84 L396.11,514.62 L396.26,516.4 L396.4,518.18 L396.5,520 L396.59,521.84 L396.68,523.67 L396.78,525.51 L396.86,527.35 L396.94,529.19 L396.99,531.02 L397.01,532.86 L397,534.7 L396.95,536.52 L396.86,538.31 L396.73,540.09 L396.59,541.87 L396.44,543.68 L396.29,545.52 L396.14,547.42 L396,549.4 L395.87,551.4 L395.73,553.39 L395.58,555.4 L395.44,557.46 L395.3,559.62 L395.18,561.91 L395.08,564.35 L395,567 L394.95,570.07 L394.93,573.62 L394.93,577.45 L394.94,581.35 L394.96,585.11 L394.98,588.53 L394.99,591.39 L395,593.5 L394,593.5 L394.01,591.39 L394.02,588.53 L394.04,585.11 L394.06,581.35 L394.07,577.45 L394.07,573.62 L394.05,570.07 L394,567 L393.92,564.35 L393.82,561.91 L393.7,559.62 L393.56,557.46 L393.42,555.4 L393.27,553.39 L393.13,551.4 L393,549.4 L392.86,547.42 L392.71,545.52 L392.56,543.68 L392.41,541.87 L392.27,540.09 L392.14,538.31 L392.05,536.52 L392,534.7 L391.99,532.86 L392.01,531.02 L392.06,529.19 L392.14,527.35 L392.22,525.51 L392.32,523.67 L392.41,521.84 L392.5,520 L392.6,518.18 L392.74,516.4 L392.89,514.62 L393.04,512.84 L393.18,511.03 L393.28,509.19 L393.32,507.28 L393.3,505.3 L393.2,503.21 L393.03,501.01 L392.81,498.75 L392.56,496.44 L392.28,494.14 L392,491.88 L391.74,489.68 L391.5,487.6 L391.27,485.61 L391.01,483.67 L390.75,481.77 L390.49,479.93 L390.26,478.13 L390.05,476.38 L389.9,474.67 L389.8,473 L389.77,471.39 L389.79,469.85 L389.85,468.37 L389.95,466.93 L390.07,465.5 L390.21,464.08 L390.36,462.66 L390.5,461.2 L390.65,459.79 L390.83,458.46 L391.03,457.16 L391.23,455.85 L391.44,454.47 L391.64,452.97 L391.83,451.3 L392,449.4 L392.16,447.11 L392.31,444.39 L392.46,441.41 L392.59,438.36 L392.72,435.4 L392.83,432.71 L392.93,430.45 L393,428.8 Z" fill="#283593" stroke="#1a1718" stroke-width="0.9" stroke-linejoin="round"/>
<path d="M427,428.8 L427.03,430.39 L427.05,432.5 L427.07,435.02 L427.11,437.81 L427.16,440.77 L427.24,443.77 L427.35,446.68 L427.5,449.4 L427.73,452 L428.03,454.62 L428.39,457.26 L428.76,459.89 L429.12,462.49 L429.44,465.06 L429.67,467.57 L429.8,470 L429.81,472.34 L429.73,474.61 L429.58,476.82 L429.39,478.98 L429.16,481.12 L428.92,483.26 L428.7,485.42 L428.5,487.6 L428.31,489.81 L428.09,492.02 L427.86,494.23 L427.64,496.44 L427.42,498.66 L427.24,500.87 L427.09,503.09 L427,505.3 L426.97,507.49 L427,509.66 L427.06,511.81 L427.16,513.97 L427.26,516.16 L427.36,518.38 L427.45,520.65 L427.5,523 L427.53,525.45 L427.56,527.99 L427.58,530.61 L427.59,533.25 L427.6,535.89 L427.58,538.51 L427.55,541.05 L427.5,543.5 L427.42,545.67 L427.31,547.5 L427.17,549.18 L427.02,550.88 L426.88,552.75 L426.73,554.98 L426.6,557.74 L426.5,561.2 L426.42,565.75 L426.35,571.4 L426.29,577.74 L426.24,584.36 L426.19,590.83 L426.16,596.76 L426.13,601.72 L426.1,605.3 L424.9,605.3 L424.87,601.72 L424.84,596.76 L424.81,590.83 L424.76,584.36 L424.71,577.74 L424.65,571.4 L424.58,565.75 L424.5,561.2 L424.4,557.74 L424.27,554.98 L424.12,552.75 L423.98,550.88 L423.83,549.18 L423.69,547.5 L423.58,545.67 L423.5,543.5 L423.45,541.05 L423.42,538.51 L423.4,535.89 L423.41,533.25 L423.42,530.61 L423.44,527.99 L423.47,525.45 L423.5,523 L423.55,520.65 L423.64,518.38 L423.74,516.16 L423.84,513.97 L423.94,511.81 L424,509.66 L424.03,507.49 L424,505.3 L423.91,503.09 L423.76,500.87 L423.58,498.66 L423.36,496.44 L423.14,494.23 L422.91,492.02 L422.69,489.81 L422.5,487.6 L422.3,485.42 L422.08,483.26 L421.84,481.12 L421.61,478.98 L421.42,476.82 L421.27,474.61 L421.19,472.34 L421.2,470 L421.33,467.57 L421.56,465.06 L421.88,462.49 L422.24,459.89 L422.61,457.26 L422.97,454.62 L423.27,452 L423.5,449.4 L423.65,446.68 L423.76,443.77 L423.84,440.77 L423.89,437.81 L423.93,435.02 L423.95,432.5 L423.97,430.39 L424,428.8 Z" fill="#8d5d75" stroke="#1a1718" stroke-width="0.9" stroke-linejoin="round"/>
<path d="M460.1,428.8 L460.02,430.35 L459.89,432.36 L459.74,434.76 L459.57,437.44 L459.43,440.34 L459.32,443.35 L459.27,446.4 L459.3,449.4 L459.44,452.49 L459.69,455.82 L460.01,459.3 L460.36,462.84 L460.71,466.36 L461,469.76 L461.21,472.97 L461.3,475.9 L461.25,478.57 L461.09,481.06 L460.85,483.41 L460.56,485.62 L460.25,487.72 L459.95,489.72 L459.69,491.64 L459.5,493.5 L459.37,495.21 L459.25,496.72 L459.15,498.09 L459.07,499.39 L459.02,500.7 L458.99,502.07 L458.98,503.58 L459,505.3 L459.06,507.25 L459.18,509.38 L459.32,511.64 L459.49,513.97 L459.65,516.33 L459.81,518.65 L459.93,520.9 L460,523 L460.03,524.95 L460.05,526.8 L460.04,528.57 L460.01,530.3 L459.96,532.03 L459.9,533.8 L459.81,535.65 L459.7,537.6 L459.55,539.44 L459.35,541.05 L459.12,542.59 L458.88,544.24 L458.64,546.16 L458.42,548.53 L458.23,551.52 L458.1,555.3 L458.02,560.35 L457.99,566.7 L457.98,573.88 L458,581.41 L458.03,588.79 L458.06,595.56 L458.09,601.22 L458.1,605.3 L456.9,605.3 L456.91,601.22 L456.94,595.56 L456.97,588.79 L457,581.41 L457.02,573.88 L457.01,566.7 L456.98,560.35 L456.9,555.3 L456.77,551.52 L456.58,548.53 L456.36,546.16 L456.12,544.24 L455.88,542.59 L455.65,541.05 L455.45,539.44 L455.3,537.6 L455.19,535.65 L455.1,533.8 L455.04,532.03 L454.99,530.3 L454.96,528.57 L454.95,526.8 L454.97,524.95 L455,523 L455.07,520.9 L455.19,518.65 L455.35,516.33 L455.51,513.97 L455.68,511.64 L455.82,509.38 L455.94,507.25 L456,505.3 L456.02,503.58 L456.01,502.07 L455.98,500.7 L455.93,499.39 L455.85,498.09 L455.75,496.72 L455.63,495.21 L455.5,493.5 L455.31,491.64 L455.05,489.72 L454.75,487.72 L454.44,485.62 L454.15,483.41 L453.91,481.06 L453.75,478.57 L453.7,475.9 L453.79,472.97 L454,469.76 L454.29,466.36 L454.64,462.84 L454.99,459.3 L455.31,455.82 L455.56,452.49 L455.7,449.4 L455.73,446.4 L455.68,443.35 L455.57,440.34 L455.43,437.44 L455.26,434.76 L455.11,432.36 L454.98,430.35 L454.9,428.8 Z" fill="#8b8651" stroke="#1a1718" stroke-width="0.9" stroke-linejoin="round"/>
<path d="M492.1,428.8 L492.02,430.43 L491.9,432.64 L491.75,435.28 L491.59,438.18 L491.45,441.2 L491.34,444.18 L491.29,446.97 L491.3,449.4 L491.4,451.52 L491.56,453.49 L491.78,455.34 L492.02,457.12 L492.29,458.85 L492.55,460.56 L492.79,462.3 L493,464.1 L493.2,465.94 L493.41,467.78 L493.64,469.61 L493.84,471.45 L494.02,473.29 L494.15,475.13 L494.22,476.96 L494.2,478.8 L494.08,480.66 L493.87,482.54 L493.58,484.44 L493.25,486.33 L492.9,488.2 L492.56,490.03 L492.25,491.8 L492,493.5 L491.79,495.07 L491.6,496.52 L491.42,497.88 L491.26,499.21 L491.12,500.57 L490.99,502 L490.89,503.56 L490.8,505.3 L490.74,507.21 L490.72,509.24 L490.73,511.38 L490.74,513.61 L490.77,515.9 L490.79,518.24 L490.81,520.61 L490.8,523 L490.78,525.49 L490.75,528.13 L490.72,530.86 L490.68,533.62 L490.64,536.33 L490.6,538.92 L490.55,541.33 L490.5,543.5 L490.44,545.37 L490.37,546.99 L490.3,548.43 L490.22,549.76 L490.15,551.04 L490.08,552.35 L490.03,553.75 L490,555.3 L489.99,557 L489.99,558.77 L490,560.6 L490.02,562.47 L490.05,564.36 L490.09,566.26 L490.14,568.14 L490.2,570 L490.28,571.83 L490.39,573.66 L490.52,575.49 L490.66,577.31 L490.78,579.14 L490.89,580.98 L490.97,582.83 L491,584.7 L490.98,586.64 L490.92,588.68 L490.83,590.77 L490.71,592.84 L490.59,594.86 L490.48,596.76 L490.37,598.49 L490.3,600 L490.25,601.3 L490.21,602.46 L490.18,603.47 L490.16,604.36 L490.14,605.12 L490.12,605.78 L490.11,606.33 L490.1,606.8 L488.9,606.8 L488.89,606.33 L488.88,605.78 L488.86,605.12 L488.84,604.36 L488.82,603.47 L488.79,602.46 L488.75,601.3 L488.7,600 L488.63,598.49 L488.52,596.76 L488.41,594.86 L488.29,592.84 L488.17,590.77 L488.08,588.68 L488.02,586.64 L488,584.7 L488.03,582.83 L488.11,580.98 L488.22,579.14 L488.34,577.31 L488.48,575.49 L488.61,573.66 L488.72,571.83 L488.8,570 L488.86,568.14 L488.91,566.26 L488.95,564.36 L488.98,562.47 L489,560.6 L489.01,558.77 L489.01,557 L489,555.3 L488.97,553.75 L488.92,552.35 L488.85,551.04 L488.78,549.76 L488.7,548.43 L488.63,546.99 L488.56,545.37 L488.5,543.5 L488.45,541.33 L488.4,538.92 L488.36,536.33 L488.32,533.62 L488.28,530.86 L488.25,528.13 L488.22,525.49 L488.2,523 L488.19,520.61 L488.21,518.24 L488.23,515.9 L488.26,513.61 L488.27,511.38 L488.28,509.24 L488.26,507.21 L488.2,505.3 L488.11,503.56 L488.01,502 L487.88,500.57 L487.74,499.21 L487.58,497.88 L487.4,496.52 L487.21,495.07 L487,493.5 L486.75,491.8 L486.44,490.03 L486.1,488.2 L485.75,486.33 L485.42,484.44 L485.13,482.54 L484.92,480.66 L484.8,478.8 L484.78,476.96 L484.85,475.13 L484.98,473.29 L485.16,471.45 L485.36,469.61 L485.59,467.78 L485.8,465.94 L486,464.1 L486.21,462.3 L486.45,460.56 L486.71,458.85 L486.98,457.12 L487.22,455.34 L487.44,453.49 L487.6,451.52 L487.7,449.4 L487.71,446.97 L487.66,444.18 L487.55,441.2 L487.41,438.18 L487.25,435.28 L487.1,432.64 L486.98,430.43 L486.9,428.8 Z" fill="#f8ef8f" stroke="#1a1718" stroke-width="0.9" stroke-linejoin="round"/>
<path d="M523.7,428.8 L523.61,429.48 L523.48,430.38 L523.33,431.45 L523.16,432.64 L522.99,433.91 L522.81,435.19 L522.65,436.44 L522.5,437.6 L522.34,438.69 L522.14,439.75 L521.93,440.81 L521.74,441.87 L521.57,442.95 L521.46,444.08 L521.43,445.25 L521.5,446.5 L521.68,447.8 L521.97,449.12 L522.33,450.48 L522.75,451.89 L523.2,453.36 L523.66,454.89 L524.1,456.5 L524.5,458.2 L524.92,460.01 L525.4,461.93 L525.91,463.95 L526.41,466.02 L526.85,468.13 L527.21,470.24 L527.44,472.34 L527.5,474.4 L527.37,476.44 L527.06,478.49 L526.62,480.54 L526.09,482.59 L525.52,484.63 L524.96,486.66 L524.43,488.65 L524,490.6 L523.62,492.53 L523.22,494.45 L522.84,496.35 L522.47,498.23 L522.14,500.07 L521.86,501.87 L521.64,503.62 L521.5,505.3 L521.46,506.91 L521.5,508.43 L521.61,509.9 L521.77,511.33 L521.96,512.74 L522.15,514.14 L522.34,515.55 L522.5,517 L522.66,518.45 L522.85,519.88 L523.06,521.29 L523.27,522.71 L523.45,524.16 L523.6,525.64 L523.69,527.19 L523.7,528.8 L523.62,530.52 L523.46,532.34 L523.24,534.23 L522.99,536.15 L522.71,538.07 L522.44,539.96 L522.2,541.78 L522,543.5 L521.83,544.86 L521.68,545.79 L521.53,546.52 L521.39,547.29 L521.27,548.31 L521.16,549.84 L521.07,552.09 L521,555.3 L520.95,559.94 L520.93,565.98 L520.93,572.93 L520.94,580.29 L520.96,587.55 L520.98,594.22 L520.99,599.81 L521,603.8 L520,603.8 L520.01,599.81 L520.02,594.22 L520.04,587.55 L520.06,580.29 L520.07,572.93 L520.07,565.98 L520.05,559.94 L520,555.3 L519.93,552.09 L519.84,549.84 L519.73,548.31 L519.61,547.29 L519.47,546.52 L519.32,545.79 L519.17,544.86 L519,543.5 L518.8,541.78 L518.56,539.96 L518.29,538.07 L518.01,536.15 L517.76,534.23 L517.54,532.34 L517.38,530.52 L517.3,528.8 L517.31,527.19 L517.4,525.64 L517.55,524.16 L517.73,522.71 L517.94,521.29 L518.15,519.88 L518.34,518.45 L518.5,517 L518.66,515.55 L518.85,514.14 L519.04,512.74 L519.23,511.33 L519.39,509.9 L519.5,508.43 L519.54,506.91 L519.5,505.3 L519.36,503.62 L519.14,501.87 L518.86,500.07 L518.53,498.23 L518.16,496.35 L517.78,494.45 L517.38,492.53 L517,490.6 L516.57,488.65 L516.04,486.66 L515.48,484.63 L514.91,482.59 L514.38,480.54 L513.94,478.49 L513.63,476.44 L513.5,474.4 L513.56,472.34 L513.79,470.24 L514.15,468.13 L514.59,466.02 L515.09,463.95 L515.6,461.93 L516.08,460.01 L516.5,458.2 L516.9,456.5 L517.34,454.89 L517.8,453.36 L518.25,451.89 L518.67,450.48 L519.03,449.12 L519.32,447.8 L519.5,446.5 L519.57,445.25 L519.54,444.08 L519.43,442.95 L519.26,441.87 L519.07,440.81 L518.86,439.75 L518.66,438.69 L518.5,437.6 L518.35,436.44 L518.19,435.19 L518.01,433.91 L517.84,432.64 L517.67,431.45 L517.52,430.38 L517.39,429.48 L517.3,428.8 Z" fill="#f5977a" stroke="#1a1718" stroke-width="0.9" stroke-linejoin="round"/>
<path d="M555.3,428.8 L555.23,429.93 L555.12,431.44 L554.99,433.24 L554.86,435.23 L554.74,437.34 L554.66,439.48 L554.64,441.56 L554.7,443.5 L554.85,445.34 L555.09,447.17 L555.39,449.01 L555.73,450.84 L556.08,452.68 L556.42,454.52 L556.74,456.36 L557,458.2 L557.24,460.03 L557.49,461.83 L557.74,463.62 L557.96,465.42 L558.16,467.24 L558.3,469.1 L558.39,471.02 L558.4,473 L558.32,475.09 L558.16,477.27 L557.93,479.52 L557.66,481.81 L557.36,484.09 L557.06,486.34 L556.76,488.52 L556.5,490.6 L556.24,492.56 L555.95,494.41 L555.65,496.19 L555.35,497.94 L555.07,499.7 L554.83,501.48 L554.63,503.34 L554.5,505.3 L554.45,507.39 L554.47,509.59 L554.55,511.85 L554.66,514.16 L554.78,516.46 L554.89,518.72 L554.97,520.92 L555,523 L554.99,524.99 L554.96,526.93 L554.92,528.83 L554.86,530.67 L554.78,532.47 L554.7,534.22 L554.6,535.93 L554.5,537.6 L554.38,538.96 L554.23,539.88 L554.06,540.61 L553.88,541.38 L553.71,542.4 L553.55,543.93 L553.41,546.18 L553.3,549.4 L553.23,554.05 L553.17,560.1 L553.14,567.07 L553.12,574.44 L553.12,581.72 L553.11,588.4 L553.11,594 L553.1,598 L551.9,598 L551.89,594 L551.89,588.4 L551.88,581.72 L551.88,574.44 L551.86,567.07 L551.83,560.1 L551.77,554.05 L551.7,549.4 L551.59,546.18 L551.45,543.93 L551.29,542.4 L551.12,541.38 L550.94,540.61 L550.77,539.88 L550.62,538.96 L550.5,537.6 L550.4,535.93 L550.3,534.22 L550.22,532.47 L550.14,530.67 L550.08,528.83 L550.04,526.93 L550.01,524.99 L550,523 L550.03,520.92 L550.11,518.72 L550.22,516.46 L550.34,514.16 L550.45,511.85 L550.53,509.59 L550.55,507.39 L550.5,505.3 L550.37,503.34 L550.17,501.48 L549.93,499.7 L549.65,497.94 L549.35,496.19 L549.05,494.41 L548.76,492.56 L548.5,490.6 L548.24,488.52 L547.94,486.34 L547.64,484.09 L547.34,481.81 L547.07,479.52 L546.84,477.27 L546.68,475.09 L546.6,473 L546.61,471.02 L546.7,469.1 L546.84,467.24 L547.04,465.42 L547.26,463.62 L547.51,461.83 L547.76,460.03 L548,458.2 L548.26,456.36 L548.58,454.52 L548.92,452.68 L549.27,450.84 L549.61,449.01 L549.91,447.17 L550.15,445.34 L550.3,443.5 L550.36,441.56 L550.34,439.48 L550.26,437.34 L550.14,435.23 L550.01,433.24 L549.88,431.44 L549.77,429.93 L549.7,428.8 Z" fill="#1a9850" stroke="#1a1718" stroke-width="0.9" stroke-linejoin="round"/>
<path d="M587.2,428.8 L587.1,429.95 L586.97,431.51 L586.81,433.36 L586.63,435.41 L586.45,437.55 L586.28,439.68 L586.12,441.7 L586,443.5 L585.89,445.05 L585.77,446.45 L585.65,447.75 L585.55,449.03 L585.47,450.36 L585.43,451.8 L585.44,453.42 L585.5,455.3 L585.65,457.47 L585.91,459.9 L586.22,462.51 L586.56,465.24 L586.9,468.01 L587.19,470.75 L587.4,473.41 L587.5,475.9 L587.48,478.28 L587.36,480.65 L587.17,482.97 L586.94,485.25 L586.68,487.46 L586.42,489.58 L586.19,491.6 L586,493.5 L585.84,495.17 L585.68,496.58 L585.53,497.84 L585.39,499.03 L585.26,500.27 L585.15,501.66 L585.06,503.3 L585,505.3 L584.98,507.7 L585,510.42 L585.06,513.38 L585.12,516.5 L585.2,519.69 L585.26,522.85 L585.3,525.92 L585.3,528.8 L585.27,531.57 L585.22,534.36 L585.15,537.12 L585.06,539.83 L584.97,542.45 L584.88,544.94 L584.79,547.27 L584.7,549.4 L584.61,551.09 L584.52,552.25 L584.41,553.12 L584.31,553.93 L584.22,554.91 L584.13,556.29 L584.05,558.31 L584,561.2 L583.97,565.34 L583.95,570.68 L583.95,576.79 L583.96,583.24 L583.97,589.59 L583.98,595.42 L584,600.3 L584,603.8 L583,603.8 L583,600.3 L583.02,595.42 L583.03,589.59 L583.04,583.24 L583.05,576.79 L583.05,570.68 L583.03,565.34 L583,561.2 L582.95,558.31 L582.87,556.29 L582.78,554.91 L582.69,553.93 L582.59,553.12 L582.48,552.25 L582.39,551.09 L582.3,549.4 L582.21,547.27 L582.12,544.94 L582.03,542.45 L581.94,539.83 L581.85,537.12 L581.78,534.36 L581.73,531.57 L581.7,528.8 L581.7,525.92 L581.74,522.85 L581.8,519.69 L581.88,516.5 L581.94,513.38 L582,510.42 L582.02,507.7 L582,505.3 L581.94,503.3 L581.85,501.66 L581.74,500.27 L581.61,499.03 L581.47,497.84 L581.32,496.58 L581.16,495.17 L581,493.5 L580.81,491.6 L580.58,489.58 L580.32,487.46 L580.06,485.25 L579.83,482.97 L579.64,480.65 L579.52,478.28 L579.5,475.9 L579.6,473.41 L579.81,470.75 L580.1,468.01 L580.44,465.24 L580.78,462.51 L581.09,459.9 L581.35,457.47 L581.5,455.3 L581.56,453.42 L581.57,451.8 L581.53,450.36 L581.45,449.03 L581.35,447.75 L581.23,446.45 L581.11,445.05 L581,443.5 L580.88,441.7 L580.72,439.68 L580.55,437.55 L580.37,435.41 L580.19,433.36 L580.03,431.51 L579.9,429.95 L579.8,428.8 Z" fill="#f7931e" stroke="#1a1718" stroke-width="0.9" stroke-linejoin="round"/>
<path d="M618.6,428.8 L618.52,429.36 L618.41,430.1 L618.29,430.97 L618.14,431.95 L617.99,433 L617.83,434.08 L617.66,435.16 L617.5,436.2 L617.3,437.2 L617.04,438.2 L616.75,439.2 L616.46,440.24 L616.21,441.32 L616.03,442.46 L615.95,443.68 L616,445 L616.2,446.41 L616.53,447.89 L616.96,449.43 L617.46,451.04 L617.99,452.73 L618.53,454.48 L619.04,456.3 L619.5,458.2 L619.96,460.2 L620.49,462.31 L621.05,464.51 L621.58,466.77 L622.06,469.07 L622.43,471.38 L622.66,473.66 L622.7,475.9 L622.51,478.14 L622.12,480.44 L621.57,482.76 L620.92,485.07 L620.24,487.33 L619.57,489.51 L618.97,491.58 L618.5,493.5 L618.13,495.25 L617.79,496.86 L617.48,498.35 L617.21,499.77 L616.97,501.14 L616.77,502.49 L616.62,503.87 L616.5,505.3 L616.44,506.75 L616.44,508.16 L616.48,509.56 L616.56,510.96 L616.67,512.39 L616.78,513.86 L616.9,515.39 L617,517 L617.12,518.7 L617.29,520.48 L617.47,522.33 L617.66,524.21 L617.82,526.12 L617.95,528.03 L618.02,529.93 L618,531.8 L617.88,533.42 L617.66,534.72 L617.38,535.9 L617.06,537.14 L616.74,538.63 L616.43,540.56 L616.17,543.12 L616,546.5 L615.9,551.11 L615.84,556.94 L615.82,563.57 L615.83,570.55 L615.86,577.47 L615.9,583.88 L615.95,589.37 L616,593.5 L616.06,596.2 L616.16,597.86 L616.27,598.72 L616.39,599.02 L616.5,598.99 L616.6,598.89 L616.67,598.94 L616.7,599.4 L616.68,600.18 L616.63,601.01 L616.54,601.87 L616.44,602.72 L616.34,603.52 L616.24,604.24 L616.16,604.84 L616.1,605.3 L614.9,605.3 L614.84,604.84 L614.76,604.24 L614.66,603.52 L614.56,602.72 L614.46,601.87 L614.37,601.01 L614.32,600.18 L614.3,599.4 L614.33,598.94 L614.4,598.89 L614.5,598.99 L614.61,599.02 L614.73,598.72 L614.84,597.86 L614.94,596.2 L615,593.5 L615.05,589.37 L615.1,583.88 L615.14,577.47 L615.17,570.55 L615.18,563.57 L615.16,556.94 L615.1,551.11 L615,546.5 L614.83,543.12 L614.57,540.56 L614.26,538.63 L613.94,537.14 L613.62,535.9 L613.34,534.72 L613.12,533.42 L613,531.8 L612.98,529.93 L613.05,528.03 L613.18,526.12 L613.34,524.21 L613.53,522.33 L613.71,520.48 L613.88,518.7 L614,517 L614.1,515.39 L614.22,513.86 L614.33,512.39 L614.44,510.96 L614.52,509.56 L614.56,508.16 L614.56,506.75 L614.5,505.3 L614.38,503.87 L614.23,502.49 L614.03,501.14 L613.79,499.77 L613.52,498.35 L613.21,496.86 L612.87,495.25 L612.5,493.5 L612.03,491.58 L611.43,489.51 L610.76,487.33 L610.08,485.07 L609.43,482.76 L608.88,480.44 L608.49,478.14 L608.3,475.9 L608.34,473.66 L608.57,471.38 L608.94,469.07 L609.42,466.77 L609.95,464.51 L610.51,462.31 L611.04,460.2 L611.5,458.2 L611.96,456.3 L612.47,454.48 L613.01,452.73 L613.54,451.04 L614.04,449.43 L614.47,447.89 L614.8,446.41 L615,445 L615.05,443.68 L614.97,442.46 L614.79,441.32 L614.54,440.24 L614.25,439.2 L613.96,438.2 L613.7,437.2 L613.5,436.2 L613.34,435.16 L613.17,434.08 L613.01,433 L612.86,431.95 L612.71,430.97 L612.59,430.1 L612.48,429.36 L612.4,428.8 Z" fill="#9cc93d" stroke="#1a1718" stroke-width="0.9" stroke-linejoin="round"/>
<path d="M650.2,428.8 L650.11,429.47 L650,430.34 L649.87,431.39 L649.72,432.55 L649.55,433.8 L649.38,435.08 L649.19,436.36 L649,437.6 L648.76,438.84 L648.45,440.16 L648.11,441.52 L647.76,442.89 L647.46,444.26 L647.22,445.58 L647.09,446.84 L647.1,448 L647.27,449.03 L647.56,449.94 L647.95,450.77 L648.42,451.57 L648.93,452.38 L649.47,453.24 L650,454.2 L650.5,455.3 L651.03,456.55 L651.64,457.91 L652.3,459.36 L652.95,460.87 L653.56,462.41 L654.08,463.96 L654.48,465.5 L654.7,467 L654.74,468.47 L654.62,469.94 L654.38,471.42 L654.05,472.89 L653.66,474.37 L653.26,475.85 L652.86,477.32 L652.5,478.8 L652.15,480.26 L651.77,481.68 L651.37,483.1 L650.96,484.52 L650.55,485.96 L650.16,487.45 L649.81,488.99 L649.5,490.6 L649.23,492.3 L648.98,494.07 L648.76,495.9 L648.56,497.77 L648.39,499.66 L648.23,501.56 L648.11,503.44 L648,505.3 L647.92,507.16 L647.88,509.04 L647.87,510.94 L647.88,512.83 L647.9,514.7 L647.93,516.53 L647.97,518.3 L648,520 L648.05,521.61 L648.12,523.16 L648.22,524.64 L648.31,526.09 L648.4,527.51 L648.47,528.92 L648.51,530.35 L648.5,531.8 L648.44,533.29 L648.34,534.8 L648.21,536.32 L648.06,537.83 L647.9,539.32 L647.75,540.77 L647.61,542.17 L647.5,543.5 L647.41,544.46 L647.33,544.93 L647.25,545.17 L647.19,545.47 L647.13,546.07 L647.08,547.25 L647.04,549.27 L647,552.4 L646.98,557.14 L646.96,563.47 L646.96,570.82 L646.97,578.66 L646.98,586.42 L646.99,593.57 L647,599.54 L647,603.8 L646,603.8 L646,599.54 L646.01,593.57 L646.02,586.42 L646.03,578.66 L646.04,570.82 L646.04,563.47 L646.02,557.14 L646,552.4 L645.96,549.27 L645.92,547.25 L645.87,546.07 L645.81,545.47 L645.75,545.17 L645.67,544.93 L645.59,544.46 L645.5,543.5 L645.39,542.17 L645.25,540.77 L645.1,539.32 L644.94,537.83 L644.79,536.32 L644.66,534.8 L644.56,533.29 L644.5,531.8 L644.49,530.35 L644.53,528.92 L644.6,527.51 L644.69,526.09 L644.78,524.64 L644.88,523.16 L644.95,521.61 L645,520 L645.03,518.3 L645.07,516.53 L645.1,514.7 L645.12,512.83 L645.13,510.94 L645.12,509.04 L645.08,507.16 L645,505.3 L644.89,503.44 L644.77,501.56 L644.61,499.66 L644.44,497.77 L644.24,495.9 L644.02,494.07 L643.77,492.3 L643.5,490.6 L643.19,488.99 L642.84,487.45 L642.45,485.96 L642.04,484.52 L641.63,483.1 L641.23,481.68 L640.85,480.26 L640.5,478.8 L640.14,477.32 L639.74,475.85 L639.34,474.37 L638.95,472.89 L638.62,471.42 L638.38,469.94 L638.26,468.47 L638.3,467 L638.52,465.5 L638.92,463.96 L639.44,462.41 L640.05,460.87 L640.7,459.36 L641.36,457.91 L641.97,456.55 L642.5,455.3 L643,454.2 L643.53,453.24 L644.07,452.38 L644.58,451.57 L645.05,450.77 L645.44,449.94 L645.73,449.03 L645.9,448 L645.91,446.84 L645.78,445.58 L645.54,444.26 L645.24,442.89 L644.89,441.52 L644.55,440.16 L644.24,438.84 L644,437.6 L643.81,436.36 L643.62,435.08 L643.45,433.8 L643.28,432.55 L643.13,431.39 L643,430.34 L642.89,429.47 L642.8,428.8 Z" fill="#0f5f70" stroke="#1a1718" stroke-width="0.9" stroke-linejoin="round"/>
<line x1="186.5" y1="504.2" x2="685" y2="504.2" stroke="#231f20" stroke-width="1" stroke-dasharray="3.7 3.74"/>
<line x1="205.5" y1="616.5" x2="205.5" y2="621" stroke="#888" stroke-width="1" />
<text x="0" y="0" font-size="11" text-anchor="end" fill="#404040" font-weight="normal" transform="translate(210.7,631) rotate(-45)" >Adrenal gland</text>
<text x="0" y="0" font-size="12.3" text-anchor="start" fill="#404040" font-weight="normal" transform="translate(208.4,413.9) rotate(-45)" >261</text>
<line x1="236.5" y1="616.5" x2="236.5" y2="621" stroke="#888" stroke-width="1" />
<text x="0" y="0" font-size="11" text-anchor="end" fill="#404040" font-weight="normal" transform="translate(242.24,631) rotate(-45)" >Kidney</text>
<text x="0" y="0" font-size="12.3" text-anchor="start" fill="#404040" font-weight="normal" transform="translate(237.94,413.9) rotate(-45)" >215</text>
<line x1="268.5" y1="616.5" x2="268.5" y2="621" stroke="#888" stroke-width="1" />
<text x="0" y="0" font-size="11" text-anchor="end" fill="#404040" font-weight="normal" transform="translate(273.78,631) rotate(-45)" >La. intestine</text>
<text x="0" y="0" font-size="12.3" text-anchor="start" fill="#404040" font-weight="normal" transform="translate(274.78,413.9) rotate(-45)" >345</text>
<line x1="299.5" y1="616.5" x2="299.5" y2="621" stroke="#888" stroke-width="1" />
<text x="0" y="0" font-size="11" text-anchor="end" fill="#404040" font-weight="normal" transform="translate(305.32,631) rotate(-45)" >Liver</text>
<text x="0" y="0" font-size="12.3" text-anchor="start" fill="#404040" font-weight="normal" transform="translate(301.92,413.9) rotate(-45)" >1,387</text>
<line x1="331.5" y1="616.5" x2="331.5" y2="621" stroke="#888" stroke-width="1" />
<text x="0" y="0" font-size="11" text-anchor="end" fill="#404040" font-weight="normal" transform="translate(336.86,631) rotate(-45)" >Soft tissue</text>
<text x="0" y="0" font-size="12.3" text-anchor="start" fill="#404040" font-weight="normal" transform="translate(336.06,413.9) rotate(-45)" >2,036</text>
<line x1="362.5" y1="616.5" x2="362.5" y2="621" stroke="#888" stroke-width="1" />
<text x="0" y="0" font-size="11" text-anchor="end" fill="#404040" font-weight="normal" transform="translate(368.4,631) rotate(-45)" >Skin</text>
<text x="0" y="0" font-size="12.3" text-anchor="start" fill="#404040" font-weight="normal" transform="translate(365,413.9) rotate(-45)" >220</text>
<line x1="394.5" y1="616.5" x2="394.5" y2="621" stroke="#888" stroke-width="1" />
<text x="0" y="0" font-size="11" text-anchor="end" fill="#404040" font-weight="normal" transform="translate(399.94,631) rotate(-45)" >Prostate</text>
<text x="0" y="0" font-size="12.3" text-anchor="start" fill="#404040" font-weight="normal" transform="translate(395.64,413.9) rotate(-45)" >131</text>
<line x1="425.5" y1="616.5" x2="425.5" y2="621" stroke="#888" stroke-width="1" />
<text x="0" y="0" font-size="11" text-anchor="end" fill="#404040" font-weight="normal" transform="translate(431.48,631) rotate(-45)" >Biliary tract</text>
<text x="0" y="0" font-size="12.3" text-anchor="start" fill="#404040" font-weight="normal" transform="translate(428.08,413.9) rotate(-45)" >95</text>
<line x1="457.5" y1="616.5" x2="457.5" y2="621" stroke="#888" stroke-width="1" />
<text x="0" y="0" font-size="11" text-anchor="end" fill="#404040" font-weight="normal" transform="translate(463.02,631) rotate(-45)" >Pancreas</text>
<text x="0" y="0" font-size="12.3" text-anchor="start" fill="#404040" font-weight="normal" transform="translate(463.12,413.9) rotate(-45)" >274</text>
<line x1="489.5" y1="616.5" x2="489.5" y2="621" stroke="#888" stroke-width="1" />
<text x="0" y="0" font-size="11" text-anchor="end" fill="#404040" font-weight="normal" transform="translate(494.56,631) rotate(-45)" >Stomach</text>
<text x="0" y="0" font-size="12.3" text-anchor="start" fill="#404040" font-weight="normal" transform="translate(493.26,413.9) rotate(-45)" >206</text>
<line x1="520.5" y1="616.5" x2="520.5" y2="621" stroke="#888" stroke-width="1" />
<text x="0" y="0" font-size="11" text-anchor="end" fill="#404040" font-weight="normal" transform="translate(526.1,631) rotate(-45)" >Endometrium</text>
<text x="0" y="0" font-size="12.3" text-anchor="start" fill="#404040" font-weight="normal" transform="translate(521.8,413.9) rotate(-45)" >489</text>
<line x1="552.5" y1="616.5" x2="552.5" y2="621" stroke="#888" stroke-width="1" />
<text x="0" y="0" font-size="11" text-anchor="end" fill="#404040" font-weight="normal" transform="translate(557.64,631) rotate(-45)" >CNS</text>
<text x="0" y="0" font-size="12.3" text-anchor="start" fill="#404040" font-weight="normal" transform="translate(555.94,413.9) rotate(-45)" >303</text>
<line x1="583.5" y1="616.5" x2="583.5" y2="621" stroke="#888" stroke-width="1" />
<text x="0" y="0" font-size="11" text-anchor="end" fill="#404040" font-weight="normal" transform="translate(589.18,631) rotate(-45)" >Lung</text>
<text x="0" y="0" font-size="12.3" text-anchor="start" fill="#404040" font-weight="normal" transform="translate(584.38,413.9) rotate(-45)" >162</text>
<line x1="615.5" y1="616.5" x2="615.5" y2="621" stroke="#888" stroke-width="1" />
<text x="0" y="0" font-size="11" text-anchor="end" fill="#404040" font-weight="normal" transform="translate(620.72,631) rotate(-45)" >Ovary</text>
<text x="0" y="0" font-size="12.3" text-anchor="start" fill="#404040" font-weight="normal" transform="translate(615.52,413.9) rotate(-45)" >153</text>
<line x1="646.5" y1="616.5" x2="646.5" y2="621" stroke="#888" stroke-width="1" />
<text x="0" y="0" font-size="11" text-anchor="end" fill="#404040" font-weight="normal" transform="translate(652.26,631) rotate(-45)" >Pituitary</text>
<text x="0" y="0" font-size="12.3" text-anchor="start" fill="#404040" font-weight="normal" transform="translate(646.26,413.9) rotate(-45)" >382</text>
</svg>
</body></html>
